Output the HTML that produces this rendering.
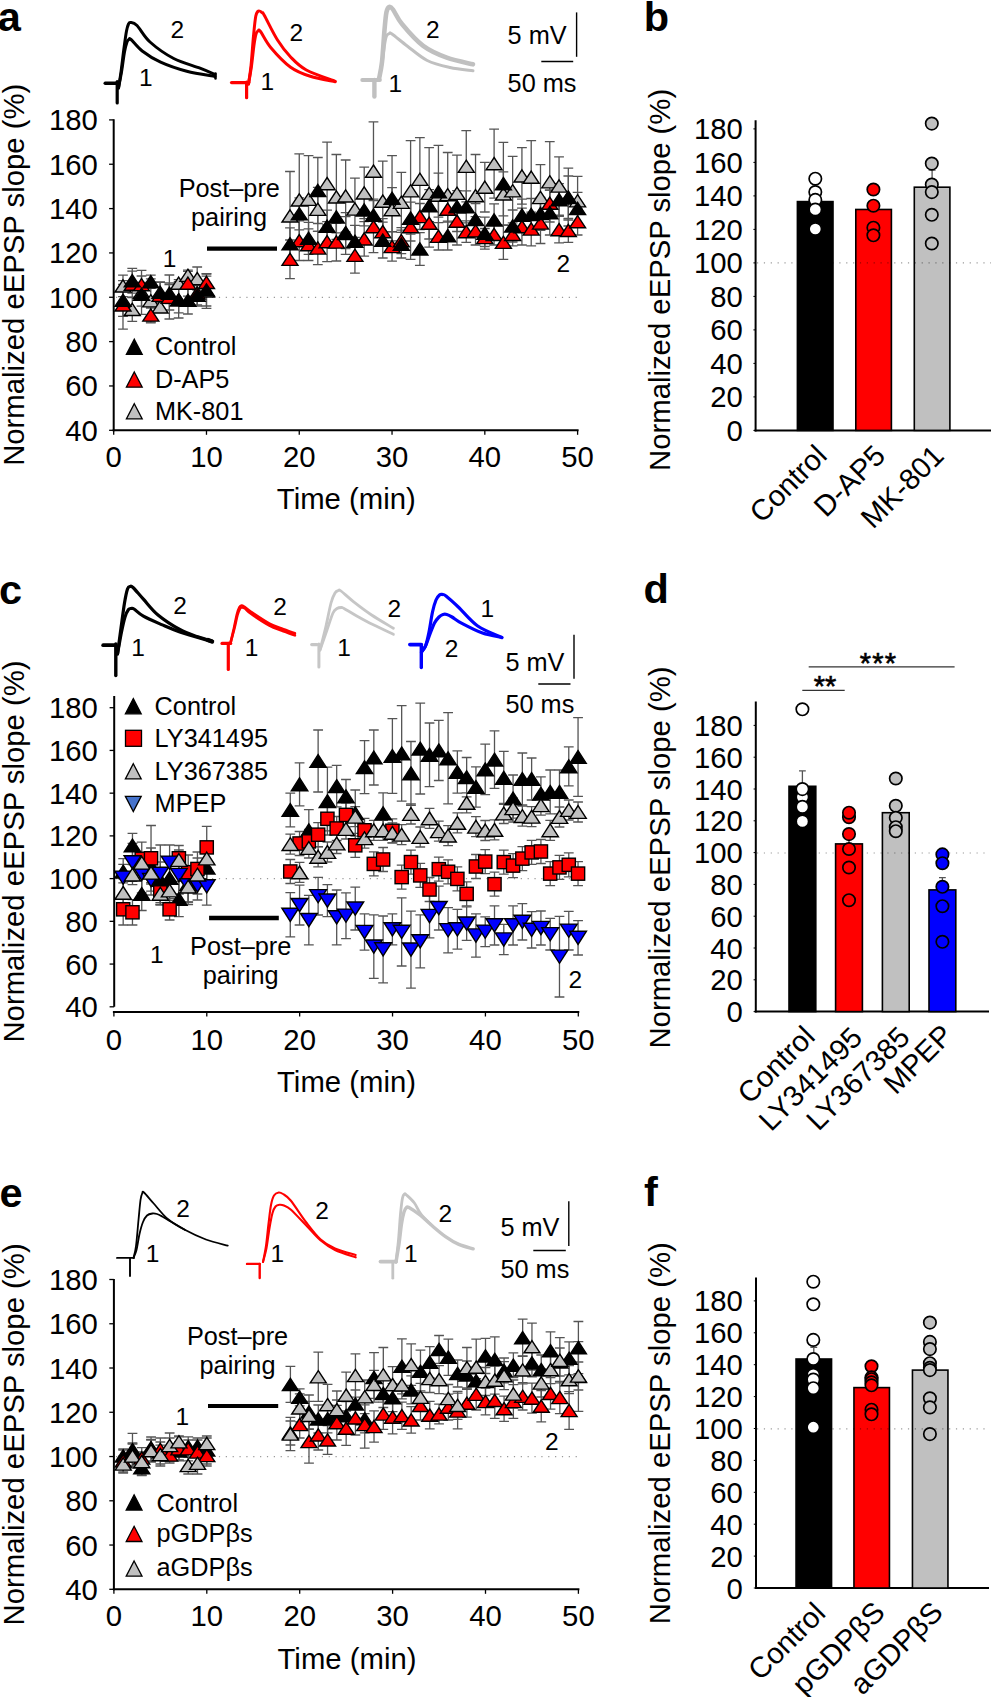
<!DOCTYPE html><html><head><meta charset="utf-8"><style>html,body{margin:0;padding:0;background:#fff;}svg{display:block;font-family:"Liberation Sans",sans-serif;}</style></head><body>
<svg width="991" height="1697" viewBox="0 0 991 1697">
<rect width="991" height="1697" fill="#fff"/>
<text x="-2.3" y="30.5" font-size="41.5" text-anchor="start" font-weight="bold">a</text>
<text x="643.7" y="30.5" font-size="41.5" text-anchor="start" font-weight="bold">b</text>
<text x="-0.9" y="603.6" font-size="41.5" text-anchor="start" font-weight="bold">c</text>
<text x="643.5" y="603.4" font-size="41.5" text-anchor="start" font-weight="bold">d</text>
<text x="-0.4" y="1206.5" font-size="41.5" text-anchor="start" font-weight="bold">e</text>
<text x="644" y="1206.2" font-size="41.5" text-anchor="start" font-weight="bold">f</text>
<text transform="translate(24 274.8) rotate(-90)" font-size="29.3" text-anchor="middle">Normalized eEPSP slope (%)</text>
<line x1="113.7" y1="119.2" x2="113.7" y2="431.3" stroke="#000" stroke-width="2"/>
<line x1="109.1" y1="430.3" x2="113.7" y2="430.3" stroke="#000" stroke-width="1.3"/>
<text x="97.8" y="440.8" font-size="29.3" text-anchor="end">40</text>
<line x1="109.1" y1="385.96" x2="113.7" y2="385.96" stroke="#000" stroke-width="1.3"/>
<text x="97.8" y="396.46" font-size="29.3" text-anchor="end">60</text>
<line x1="109.1" y1="341.61" x2="113.7" y2="341.61" stroke="#000" stroke-width="1.3"/>
<text x="97.8" y="352.11" font-size="29.3" text-anchor="end">80</text>
<line x1="109.1" y1="297.27" x2="113.7" y2="297.27" stroke="#000" stroke-width="1.3"/>
<text x="97.8" y="307.77" font-size="29.3" text-anchor="end">100</text>
<line x1="109.1" y1="252.93" x2="113.7" y2="252.93" stroke="#000" stroke-width="1.3"/>
<text x="97.8" y="263.43" font-size="29.3" text-anchor="end">120</text>
<line x1="109.1" y1="208.59" x2="113.7" y2="208.59" stroke="#000" stroke-width="1.3"/>
<text x="97.8" y="219.09" font-size="29.3" text-anchor="end">140</text>
<line x1="109.1" y1="164.24" x2="113.7" y2="164.24" stroke="#000" stroke-width="1.3"/>
<text x="97.8" y="174.74" font-size="29.3" text-anchor="end">160</text>
<line x1="109.1" y1="119.9" x2="113.7" y2="119.9" stroke="#000" stroke-width="1.3"/>
<text x="97.8" y="130.4" font-size="29.3" text-anchor="end">180</text>
<line x1="112.7" y1="430.3" x2="578.6" y2="430.3" stroke="#000" stroke-width="2"/>
<line x1="113.7" y1="430.3" x2="113.7" y2="434.8" stroke="#000" stroke-width="1.3"/>
<text x="113.7" y="467.2" font-size="29.3" text-anchor="middle">0</text>
<line x1="206.48" y1="430.3" x2="206.48" y2="434.8" stroke="#000" stroke-width="1.3"/>
<text x="206.48" y="467.2" font-size="29.3" text-anchor="middle">10</text>
<line x1="299.26" y1="430.3" x2="299.26" y2="434.8" stroke="#000" stroke-width="1.3"/>
<text x="299.26" y="467.2" font-size="29.3" text-anchor="middle">20</text>
<line x1="392.04" y1="430.3" x2="392.04" y2="434.8" stroke="#000" stroke-width="1.3"/>
<text x="392.04" y="467.2" font-size="29.3" text-anchor="middle">30</text>
<line x1="484.82" y1="430.3" x2="484.82" y2="434.8" stroke="#000" stroke-width="1.3"/>
<text x="484.82" y="467.2" font-size="29.3" text-anchor="middle">40</text>
<line x1="577.6" y1="430.3" x2="577.6" y2="434.8" stroke="#000" stroke-width="1.3"/>
<text x="577.6" y="467.2" font-size="29.3" text-anchor="middle">50</text>
<text x="346.3" y="508.8" font-size="29.3" text-anchor="middle">Time (min)</text>
<line x1="116" y1="297.32" x2="577.6" y2="297.32" stroke="#000" stroke-opacity="0.4" stroke-width="1.2" stroke-dasharray="1.2 5.66"/>
<path d="M105.2 83.3L116.6 83.3" fill="none" stroke="#000" stroke-width="3.4" stroke-linejoin="round" stroke-linecap="round"/>
<path d="M117.2 81.5L117.2 103" fill="none" stroke="#000" stroke-width="3.2" stroke-linejoin="round" stroke-linecap="round"/>
<path d="M118.5 88C118.92 85.33 120.08 78.67 121 72C121.92 65.33 123.08 54.83 124 48C124.92 41.17 125.75 35 126.5 31C127.25 27 127.83 25.42 128.5 24C129.17 22.58 129.08 22.25 130.5 22.5C131.92 22.75 133.75 22.25 137 25.5C140.25 28.75 143.88 36.5 150 42C156.12 47.5 165.37 54.13 173.7 58.5C182.03 62.87 193.12 65.53 200 68.2C206.88 70.87 212.5 73.45 215 74.5" fill="none" stroke="#000" stroke-width="3" stroke-linejoin="round" stroke-linecap="round"/>
<path d="M118.5 88C119 85.33 120.5 78 121.5 72C122.5 66 123.58 57 124.5 52C125.42 47 126.25 44.08 127 42C127.75 39.92 128.33 39.92 129 39.5C129.67 39.08 128.8 37.58 131 39.5C133.2 41.42 137.27 47.22 142.2 51C147.13 54.78 153.17 58.82 160.6 62.2C168.03 65.58 177.73 68.92 186.8 71.3C195.87 73.68 210.3 75.63 215 76.5" fill="none" stroke="#000" stroke-width="3" stroke-linejoin="round" stroke-linecap="round"/>
<path d="M215.5 73.5L215.5 78.5" fill="none" stroke="#000" stroke-width="2.5" stroke-linejoin="round" stroke-linecap="round"/>
<path d="M231.6 82.6L248.6 82.6" fill="none" stroke="#ff0000" stroke-width="3.4" stroke-linejoin="round" stroke-linecap="round"/>
<path d="M246.6 82L246.6 97.7" fill="none" stroke="#ff0000" stroke-width="3.2" stroke-linejoin="round" stroke-linecap="round"/>
<path d="M248.5 84C248.92 81 250.17 74 251 66C251.83 58 252.7 44.33 253.5 36C254.3 27.67 254.97 20.17 255.8 16C256.63 11.83 257.47 11.58 258.5 11C259.53 10.42 261.02 11.75 262 12.5C262.98 13.25 261.82 10.92 264.4 15.5C266.98 20.08 273.13 33.08 277.5 40C281.87 46.92 285.8 52 290.6 57C295.4 62 298.87 65.95 306.3 70C313.73 74.05 330.38 79.42 335.2 81.3" fill="none" stroke="#ff0000" stroke-width="3" stroke-linejoin="round" stroke-linecap="round"/>
<path d="M248.5 84C249 81 250.58 72.5 251.5 66C252.42 59.5 253.25 50.33 254 45C254.75 39.67 255.33 36.33 256 34C256.67 31.67 257.25 31.42 258 31C258.75 30.58 258.35 28.72 260.5 31.5C262.65 34.28 265.88 41.75 270.9 47.7C275.92 53.65 284.03 62.43 290.6 67.2C297.17 71.97 302.87 73.87 310.3 76.3C317.73 78.73 331.05 80.88 335.2 81.8" fill="none" stroke="#ff0000" stroke-width="3" stroke-linejoin="round" stroke-linecap="round"/>
<path d="M362.2 80L379.9 80" fill="none" stroke="#c0c0c0" stroke-width="3.8" stroke-linejoin="round" stroke-linecap="round"/>
<path d="M374.4 80L374.4 96.5" fill="none" stroke="#c0c0c0" stroke-width="4.4" stroke-linejoin="round" stroke-linecap="round"/>
<path d="M379 79C379.5 76.17 381.08 70.17 382 62C382.92 53.83 383.75 38.33 384.5 30C385.25 21.67 385.68 15.83 386.5 12C387.32 8.17 388.32 7.42 389.4 7C390.48 6.58 390.87 6.62 393 9.5C395.13 12.38 397.17 18.23 402.2 24.3C407.23 30.37 415.77 40.33 423.2 45.9C430.63 51.47 438.5 54.63 446.8 57.7C455.1 60.77 468.63 63.2 473 64.3" fill="none" stroke="#c0c0c0" stroke-width="4.6" stroke-linejoin="round" stroke-linecap="round"/>
<path d="M379 79C379.5 76.5 381.08 69.67 382 64C382.92 58.33 383.75 49.67 384.5 45C385.25 40.33 385.68 37.92 386.5 36C387.32 34.08 388.48 33.83 389.4 33.5C390.32 33.17 388.98 31.88 392 34C395.02 36.12 401.63 41.78 407.5 46.2C413.37 50.62 420.12 56.95 427.2 60.5C434.28 64.05 442.37 65.78 450 67.5C457.63 69.22 469.17 70.25 473 70.8" fill="none" stroke="#c0c0c0" stroke-width="3" stroke-linejoin="round" stroke-linecap="round"/>
<text x="177.2" y="38.4" font-size="24.5" text-anchor="middle">2</text>
<text x="145.8" y="85.7" font-size="24.5" text-anchor="middle">1</text>
<text x="296.2" y="40.5" font-size="24.5" text-anchor="middle">2</text>
<text x="267.4" y="90.3" font-size="24.5" text-anchor="middle">1</text>
<text x="432.8" y="37.8" font-size="24.5" text-anchor="middle">2</text>
<text x="395.4" y="91.6" font-size="24.5" text-anchor="middle">1</text>
<line x1="576.6" y1="12.4" x2="576.6" y2="56.8" stroke="#000" stroke-width="1.4"/>
<line x1="541.3" y1="61.6" x2="573.2" y2="61.6" stroke="#000" stroke-width="1.5"/>
<text x="507.6" y="44.3" font-size="25.3" text-anchor="start">5 mV</text>
<text x="507.6" y="92" font-size="25.3" text-anchor="start">50 ms</text>
<text x="229.3" y="197" font-size="25.3" text-anchor="middle">Post–pre</text>
<text x="229" y="226.4" font-size="25.3" text-anchor="middle">pairing</text>
<line x1="207" y1="248.7" x2="277" y2="248.7" stroke="#000" stroke-width="4.3"/>
<text x="169.5" y="267.2" font-size="24.5" text-anchor="middle">1</text>
<text x="563.4" y="272" font-size="24.5" text-anchor="middle">2</text>
<path d="M134.3 339.2L142.2 354.4L126.4 354.4Z" fill="#000" stroke="#000" stroke-width="1.3"/>
<text x="154.9" y="355.1" font-size="25.3" text-anchor="start">Control</text>
<path d="M134.3 372L142.2 387.2L126.4 387.2Z" fill="#ff0000" stroke="#000" stroke-width="1.3"/>
<text x="154.9" y="387.9" font-size="25.3" text-anchor="start">D-AP5</text>
<path d="M134.3 403.7L142.2 418.9L126.4 418.9Z" fill="#c0c0c0" stroke="#000" stroke-width="1.3"/>
<text x="154.9" y="419.6" font-size="25.3" text-anchor="start">MK-801</text>
<path d="M122.98 275.1V296.7M118.08 275.1H127.88M118.08 296.7H127.88" stroke="#555555" stroke-width="1.3" fill="none"/>
<path d="M122.98 284.3V316.3M118.08 284.3H127.88M118.08 316.3H127.88" stroke="#555555" stroke-width="1.3" fill="none"/>
<path d="M122.98 280.7V329.1M118.08 280.7H127.88M118.08 329.1H127.88" stroke="#555555" stroke-width="1.3" fill="none"/>
<path d="M132.26 297.5V321.3M127.36 297.5H137.16M127.36 321.3H137.16" stroke="#555555" stroke-width="1.3" fill="none"/>
<path d="M132.26 268.3V293.1M127.36 268.3H137.16M127.36 293.1H137.16" stroke="#555555" stroke-width="1.3" fill="none"/>
<path d="M132.26 271.2V297.2M127.36 271.2H137.16M127.36 297.2H137.16" stroke="#555555" stroke-width="1.3" fill="none"/>
<path d="M141.53 270.3V314.3M136.63 270.3H146.43M136.63 314.3H146.43" stroke="#555555" stroke-width="1.3" fill="none"/>
<path d="M141.53 282.4V306.2M136.63 282.4H146.43M136.63 306.2H146.43" stroke="#555555" stroke-width="1.3" fill="none"/>
<path d="M141.53 276V293.4M136.63 276H146.43M136.63 293.4H146.43" stroke="#555555" stroke-width="1.3" fill="none"/>
<path d="M150.81 278.8V322.8M145.91 278.8H155.71M145.91 322.8H155.71" stroke="#555555" stroke-width="1.3" fill="none"/>
<path d="M150.81 275.1V288.3M145.91 275.1H155.71M145.91 288.3H155.71" stroke="#555555" stroke-width="1.3" fill="none"/>
<path d="M150.81 308V322M145.91 308H155.71M145.91 322H155.71" stroke="#555555" stroke-width="1.3" fill="none"/>
<path d="M160.09 301.8V312M155.19 301.8H164.99M155.19 312H164.99" stroke="#555555" stroke-width="1.3" fill="none"/>
<path d="M160.09 282V302.6M155.19 282H164.99M155.19 302.6H164.99" stroke="#555555" stroke-width="1.3" fill="none"/>
<path d="M160.09 282.3V308.3M155.19 282.3H164.99M155.19 308.3H164.99" stroke="#555555" stroke-width="1.3" fill="none"/>
<path d="M169.37 275V319M164.47 275H174.27M164.47 319H174.27" stroke="#555555" stroke-width="1.3" fill="none"/>
<path d="M169.37 283V303.6M164.47 283H174.27M164.47 303.6H174.27" stroke="#555555" stroke-width="1.3" fill="none"/>
<path d="M169.37 284.6V310M164.47 284.6H174.27M164.47 310H174.27" stroke="#555555" stroke-width="1.3" fill="none"/>
<path d="M178.65 279.7V286.7M173.75 279.7H183.55M173.75 286.7H183.55" stroke="#555555" stroke-width="1.3" fill="none"/>
<path d="M178.65 281.6V318M173.75 281.6H183.55M173.75 318H183.55" stroke="#555555" stroke-width="1.3" fill="none"/>
<path d="M178.65 286.8V312.8M173.75 286.8H183.55M173.75 312.8H183.55" stroke="#555555" stroke-width="1.3" fill="none"/>
<path d="M187.92 271.3V279.3M183.02 271.3H192.82M183.02 279.3H192.82" stroke="#555555" stroke-width="1.3" fill="none"/>
<path d="M187.92 286.6V314M183.02 286.6H192.82M183.02 314H192.82" stroke="#555555" stroke-width="1.3" fill="none"/>
<path d="M187.92 270.2V296.2M183.02 270.2H192.82M183.02 296.2H192.82" stroke="#555555" stroke-width="1.3" fill="none"/>
<path d="M197.2 267V290.2M192.3 267H202.1M192.3 290.2H202.1" stroke="#555555" stroke-width="1.3" fill="none"/>
<path d="M197.2 285.7V304.9M192.3 285.7H202.1M192.3 304.9H202.1" stroke="#555555" stroke-width="1.3" fill="none"/>
<path d="M197.2 280V306M192.3 280H202.1M192.3 306H202.1" stroke="#555555" stroke-width="1.3" fill="none"/>
<path d="M206.48 273.6V308.4M201.58 273.6H211.38M201.58 308.4H211.38" stroke="#555555" stroke-width="1.3" fill="none"/>
<path d="M206.48 274V306M201.58 274H211.38M201.58 306H211.38" stroke="#555555" stroke-width="1.3" fill="none"/>
<path d="M206.48 276.1V288.7M201.58 276.1H211.38M201.58 288.7H211.38" stroke="#555555" stroke-width="1.3" fill="none"/>
<path d="M289.98 171.5V260.3M285.08 171.5H294.88M285.08 260.3H294.88" stroke="#555555" stroke-width="1.3" fill="none"/>
<path d="M289.98 227.8V259.8M285.08 227.8H294.88M285.08 259.8H294.88" stroke="#555555" stroke-width="1.3" fill="none"/>
<path d="M289.98 240V278.6M285.08 240H294.88M285.08 278.6H294.88" stroke="#555555" stroke-width="1.3" fill="none"/>
<path d="M299.26 153.9V245.9M294.36 153.9H304.16M294.36 245.9H304.16" stroke="#555555" stroke-width="1.3" fill="none"/>
<path d="M299.26 197.8V229.8M294.36 197.8H304.16M294.36 229.8H304.16" stroke="#555555" stroke-width="1.3" fill="none"/>
<path d="M299.26 220.9V260.5M294.36 220.9H304.16M294.36 260.5H304.16" stroke="#555555" stroke-width="1.3" fill="none"/>
<path d="M308.54 155.7V242.9M303.64 155.7H313.44M303.64 242.9H313.44" stroke="#555555" stroke-width="1.3" fill="none"/>
<path d="M308.54 222.3V254.3M303.64 222.3H313.44M303.64 254.3H313.44" stroke="#555555" stroke-width="1.3" fill="none"/>
<path d="M308.54 228.9V260.5M303.64 228.9H313.44M303.64 260.5H313.44" stroke="#555555" stroke-width="1.3" fill="none"/>
<path d="M317.82 187.3V231.3M312.92 187.3H322.72M312.92 231.3H322.72" stroke="#555555" stroke-width="1.3" fill="none"/>
<path d="M317.82 157.5V223.5M312.92 157.5H322.72M312.92 223.5H322.72" stroke="#555555" stroke-width="1.3" fill="none"/>
<path d="M317.82 231.3V264.7M312.92 231.3H322.72M312.92 264.7H322.72" stroke="#555555" stroke-width="1.3" fill="none"/>
<path d="M327.09 142.2V225M322.19 142.2H331.99M322.19 225H331.99" stroke="#555555" stroke-width="1.3" fill="none"/>
<path d="M327.09 210.2V242.2M322.19 210.2H331.99M322.19 242.2H331.99" stroke="#555555" stroke-width="1.3" fill="none"/>
<path d="M327.09 221.7V261.7M322.19 221.7H331.99M322.19 261.7H331.99" stroke="#555555" stroke-width="1.3" fill="none"/>
<path d="M336.37 154.5V239.3M331.47 154.5H341.27M331.47 239.3H341.27" stroke="#555555" stroke-width="1.3" fill="none"/>
<path d="M336.37 200.9V232.9M331.47 200.9H341.27M331.47 232.9H341.27" stroke="#555555" stroke-width="1.3" fill="none"/>
<path d="M336.37 223V261M331.47 223H341.27M331.47 261H341.27" stroke="#555555" stroke-width="1.3" fill="none"/>
<path d="M345.65 160V231.8M340.75 160H350.55M340.75 231.8H350.55" stroke="#555555" stroke-width="1.3" fill="none"/>
<path d="M345.65 216.6V248.6M340.75 216.6H350.55M340.75 248.6H350.55" stroke="#555555" stroke-width="1.3" fill="none"/>
<path d="M345.65 212.6V254.4M340.75 212.6H350.55M340.75 254.4H350.55" stroke="#555555" stroke-width="1.3" fill="none"/>
<path d="M354.93 178.1V239.9M350.03 178.1H359.83M350.03 239.9H359.83" stroke="#555555" stroke-width="1.3" fill="none"/>
<path d="M354.93 225.3V257.3M350.03 225.3H359.83M350.03 257.3H359.83" stroke="#555555" stroke-width="1.3" fill="none"/>
<path d="M354.93 237.4V273.2M350.03 237.4H359.83M350.03 273.2H359.83" stroke="#555555" stroke-width="1.3" fill="none"/>
<path d="M364.21 167.2V218.6M359.31 167.2H369.11M359.31 218.6H369.11" stroke="#555555" stroke-width="1.3" fill="none"/>
<path d="M364.21 193.9V225.9M359.31 193.9H369.11M359.31 225.9H369.11" stroke="#555555" stroke-width="1.3" fill="none"/>
<path d="M364.21 221.6V256.2M359.31 221.6H369.11M359.31 256.2H369.11" stroke="#555555" stroke-width="1.3" fill="none"/>
<path d="M373.48 121.8V220.4M368.58 121.8H378.38M368.58 220.4H378.38" stroke="#555555" stroke-width="1.3" fill="none"/>
<path d="M373.48 199.1V231.1M368.58 199.1H378.38M368.58 231.1H378.38" stroke="#555555" stroke-width="1.3" fill="none"/>
<path d="M373.48 200.6V252.6M368.58 200.6H378.38M368.58 252.6H378.38" stroke="#555555" stroke-width="1.3" fill="none"/>
<path d="M382.76 161.2V241M377.86 161.2H387.66M377.86 241H387.66" stroke="#555555" stroke-width="1.3" fill="none"/>
<path d="M382.76 222.2V258M377.86 222.2H387.66M377.86 258H387.66" stroke="#555555" stroke-width="1.3" fill="none"/>
<path d="M382.76 218.6V244.6M377.86 218.6H387.66M377.86 244.6H387.66" stroke="#555555" stroke-width="1.3" fill="none"/>
<path d="M392.04 187.6V231.6M387.14 187.6H396.94M387.14 231.6H396.94" stroke="#555555" stroke-width="1.3" fill="none"/>
<path d="M392.04 155.7V240.9M387.14 155.7H396.94M387.14 240.9H396.94" stroke="#555555" stroke-width="1.3" fill="none"/>
<path d="M392.04 231.9V261.1M387.14 231.9H396.94M387.14 261.1H396.94" stroke="#555555" stroke-width="1.3" fill="none"/>
<path d="M401.32 172.3V232.3M396.42 172.3H406.22M396.42 232.3H406.22" stroke="#555555" stroke-width="1.3" fill="none"/>
<path d="M401.32 230.2V258M396.42 230.2H406.22M396.42 258H406.22" stroke="#555555" stroke-width="1.3" fill="none"/>
<path d="M401.32 227.7V253.7M396.42 227.7H406.22M396.42 253.7H406.22" stroke="#555555" stroke-width="1.3" fill="none"/>
<path d="M410.6 140.6V241M405.7 140.6H415.5M405.7 241H415.5" stroke="#555555" stroke-width="1.3" fill="none"/>
<path d="M410.6 202.1V234.1M405.7 202.1H415.5M405.7 234.1H415.5" stroke="#555555" stroke-width="1.3" fill="none"/>
<path d="M410.6 193.9V259.3M405.7 193.9H415.5M405.7 259.3H415.5" stroke="#555555" stroke-width="1.3" fill="none"/>
<path d="M419.87 137.6V221M414.97 137.6H424.77M414.97 221H424.77" stroke="#555555" stroke-width="1.3" fill="none"/>
<path d="M419.87 232.7V265.3M414.97 232.7H424.77M414.97 265.3H424.77" stroke="#555555" stroke-width="1.3" fill="none"/>
<path d="M419.87 203.5V229.5M414.97 203.5H424.77M414.97 229.5H424.77" stroke="#555555" stroke-width="1.3" fill="none"/>
<path d="M429.15 147.6V239M424.25 147.6H434.05M424.25 239H434.05" stroke="#555555" stroke-width="1.3" fill="none"/>
<path d="M429.15 189.6V221.6M424.25 189.6H434.05M424.25 221.6H434.05" stroke="#555555" stroke-width="1.3" fill="none"/>
<path d="M429.15 199.3V247.1M424.25 199.3H434.05M424.25 247.1H434.05" stroke="#555555" stroke-width="1.3" fill="none"/>
<path d="M438.43 173.1V217.1M433.53 173.1H443.33M433.53 217.1H443.33" stroke="#555555" stroke-width="1.3" fill="none"/>
<path d="M438.43 145.4V238M433.53 145.4H443.33M433.53 238H443.33" stroke="#555555" stroke-width="1.3" fill="none"/>
<path d="M438.43 222.6V250M433.53 222.6H443.33M433.53 250H443.33" stroke="#555555" stroke-width="1.3" fill="none"/>
<path d="M447.71 152.5V236.9M442.81 152.5H452.61M442.81 236.9H452.61" stroke="#555555" stroke-width="1.3" fill="none"/>
<path d="M447.71 221.2V250M442.81 221.2H452.61M442.81 250H452.61" stroke="#555555" stroke-width="1.3" fill="none"/>
<path d="M447.71 196.2V222.2M442.81 196.2H452.61M442.81 222.2H452.61" stroke="#555555" stroke-width="1.3" fill="none"/>
<path d="M456.99 155.1V231.5M452.09 155.1H461.89M452.09 231.5H461.89" stroke="#555555" stroke-width="1.3" fill="none"/>
<path d="M456.99 190.6V222.6M452.09 190.6H461.89M452.09 222.6H461.89" stroke="#555555" stroke-width="1.3" fill="none"/>
<path d="M456.99 197.2V245M452.09 197.2H461.89M452.09 245H461.89" stroke="#555555" stroke-width="1.3" fill="none"/>
<path d="M466.26 130.7V201.9M461.36 130.7H471.16M461.36 201.9H471.16" stroke="#555555" stroke-width="1.3" fill="none"/>
<path d="M466.26 190.8V222.8M461.36 190.8H471.16M461.36 222.8H471.16" stroke="#555555" stroke-width="1.3" fill="none"/>
<path d="M466.26 220.9V242.3M461.36 220.9H471.16M461.36 242.3H471.16" stroke="#555555" stroke-width="1.3" fill="none"/>
<path d="M475.54 154.5V236.9M470.64 154.5H480.44M470.64 236.9H480.44" stroke="#555555" stroke-width="1.3" fill="none"/>
<path d="M475.54 203.5V235.5M470.64 203.5H480.44M470.64 235.5H480.44" stroke="#555555" stroke-width="1.3" fill="none"/>
<path d="M475.54 216.6V245M470.64 216.6H480.44M470.64 245H480.44" stroke="#555555" stroke-width="1.3" fill="none"/>
<path d="M484.82 162.4V212M479.92 162.4H489.72M479.92 212H489.72" stroke="#555555" stroke-width="1.3" fill="none"/>
<path d="M484.82 217.2V249.2M479.92 217.2H489.72M479.92 249.2H489.72" stroke="#555555" stroke-width="1.3" fill="none"/>
<path d="M484.82 228.5V246.5M479.92 228.5H489.72M479.92 246.5H489.72" stroke="#555555" stroke-width="1.3" fill="none"/>
<path d="M494.1 129.1V198.1M489.2 129.1H499M489.2 198.1H499" stroke="#555555" stroke-width="1.3" fill="none"/>
<path d="M494.1 203.9V235.9M489.2 203.9H499M489.2 235.9H499" stroke="#555555" stroke-width="1.3" fill="none"/>
<path d="M494.1 223.8V245M489.2 223.8H499M489.2 245H499" stroke="#555555" stroke-width="1.3" fill="none"/>
<path d="M503.38 171.9V215.9M498.48 171.9H508.28M498.48 215.9H508.28" stroke="#555555" stroke-width="1.3" fill="none"/>
<path d="M503.38 142.4V224.8M498.48 142.4H508.28M498.48 224.8H508.28" stroke="#555555" stroke-width="1.3" fill="none"/>
<path d="M503.38 225.3V259.3M498.48 225.3H508.28M498.48 259.3H508.28" stroke="#555555" stroke-width="1.3" fill="none"/>
<path d="M512.65 156.3V225.3M507.75 156.3H517.55M507.75 225.3H517.55" stroke="#555555" stroke-width="1.3" fill="none"/>
<path d="M512.65 210V242M507.75 210H517.55M507.75 242H517.55" stroke="#555555" stroke-width="1.3" fill="none"/>
<path d="M512.65 222.9V245.9M507.75 222.9H517.55M507.75 245.9H517.55" stroke="#555555" stroke-width="1.3" fill="none"/>
<path d="M521.93 147.6V204.2M517.03 147.6H526.83M517.03 204.2H526.83" stroke="#555555" stroke-width="1.3" fill="none"/>
<path d="M521.93 199.1V231.1M517.03 199.1H526.83M517.03 231.1H526.83" stroke="#555555" stroke-width="1.3" fill="none"/>
<path d="M521.93 208.2V245M517.03 208.2H526.83M517.03 245H526.83" stroke="#555555" stroke-width="1.3" fill="none"/>
<path d="M531.21 140.6V213.8M526.31 140.6H536.11M526.31 213.8H536.11" stroke="#555555" stroke-width="1.3" fill="none"/>
<path d="M531.21 198.5V230.5M526.31 198.5H536.11M526.31 230.5H536.11" stroke="#555555" stroke-width="1.3" fill="none"/>
<path d="M531.21 212.1V245.9M526.31 212.1H536.11M526.31 245.9H536.11" stroke="#555555" stroke-width="1.3" fill="none"/>
<path d="M540.49 164.6V230.4M535.59 164.6H545.39M535.59 230.4H545.39" stroke="#555555" stroke-width="1.3" fill="none"/>
<path d="M540.49 197.5V229.5M535.59 197.5H545.39M535.59 229.5H545.39" stroke="#555555" stroke-width="1.3" fill="none"/>
<path d="M540.49 202.5V243.5M535.59 202.5H545.39M535.59 243.5H545.39" stroke="#555555" stroke-width="1.3" fill="none"/>
<path d="M549.77 141.6V222M544.87 141.6H554.67M544.87 222H554.67" stroke="#555555" stroke-width="1.3" fill="none"/>
<path d="M549.77 190.2V235M544.87 190.2H554.67M544.87 235H554.67" stroke="#555555" stroke-width="1.3" fill="none"/>
<path d="M549.77 190.2V216.2M544.87 190.2H554.67M544.87 216.2H554.67" stroke="#555555" stroke-width="1.3" fill="none"/>
<path d="M559.04 156.9V215.1M554.14 156.9H563.94M554.14 215.1H563.94" stroke="#555555" stroke-width="1.3" fill="none"/>
<path d="M559.04 183.6V215.6M554.14 183.6H563.94M554.14 215.6H563.94" stroke="#555555" stroke-width="1.3" fill="none"/>
<path d="M559.04 216.3V242.9M554.14 216.3H563.94M554.14 242.9H563.94" stroke="#555555" stroke-width="1.3" fill="none"/>
<path d="M568.32 176V220M563.42 176H573.22M563.42 220H573.22" stroke="#555555" stroke-width="1.3" fill="none"/>
<path d="M568.32 168.2V226M563.42 168.2H573.22M563.42 226H573.22" stroke="#555555" stroke-width="1.3" fill="none"/>
<path d="M568.32 218.5V242.3M563.42 218.5H573.22M563.42 242.3H573.22" stroke="#555555" stroke-width="1.3" fill="none"/>
<path d="M577.6 176.3V225.3M572.7 176.3H582.5M572.7 225.3H582.5" stroke="#555555" stroke-width="1.3" fill="none"/>
<path d="M577.6 192.4V224.4M572.7 192.4H582.5M572.7 224.4H582.5" stroke="#555555" stroke-width="1.3" fill="none"/>
<path d="M577.6 208.4V235M572.7 208.4H582.5M572.7 235H582.5" stroke="#555555" stroke-width="1.3" fill="none"/>
<path d="M122.98 279.8L130.98 292L114.98 292Z" fill="#c0c0c0" stroke="#000" stroke-width="1.4"/>
<path d="M132.26 303.3L140.26 315.5L124.26 315.5Z" fill="#c0c0c0" stroke="#000" stroke-width="1.4"/>
<path d="M141.53 286.2L149.53 298.4L133.53 298.4Z" fill="#c0c0c0" stroke="#000" stroke-width="1.4"/>
<path d="M150.81 294.7L158.81 306.9L142.81 306.9Z" fill="#c0c0c0" stroke="#000" stroke-width="1.4"/>
<path d="M160.09 300.8L168.09 313L152.09 313Z" fill="#c0c0c0" stroke="#000" stroke-width="1.4"/>
<path d="M169.37 290.9L177.37 303.1L161.37 303.1Z" fill="#c0c0c0" stroke="#000" stroke-width="1.4"/>
<path d="M178.65 277.1L186.65 289.3L170.65 289.3Z" fill="#c0c0c0" stroke="#000" stroke-width="1.4"/>
<path d="M187.92 269.2L195.92 281.4L179.92 281.4Z" fill="#c0c0c0" stroke="#000" stroke-width="1.4"/>
<path d="M197.2 272.5L205.2 284.7L189.2 284.7Z" fill="#c0c0c0" stroke="#000" stroke-width="1.4"/>
<path d="M206.48 284.9L214.48 297.1L198.48 297.1Z" fill="#c0c0c0" stroke="#000" stroke-width="1.4"/>
<path d="M289.98 209.8L297.98 222L281.98 222Z" fill="#c0c0c0" stroke="#000" stroke-width="1.4"/>
<path d="M299.26 193.8L307.26 206L291.26 206Z" fill="#c0c0c0" stroke="#000" stroke-width="1.4"/>
<path d="M308.54 193.2L316.54 205.4L300.54 205.4Z" fill="#c0c0c0" stroke="#000" stroke-width="1.4"/>
<path d="M317.82 203.2L325.82 215.4L309.82 215.4Z" fill="#c0c0c0" stroke="#000" stroke-width="1.4"/>
<path d="M327.09 177.5L335.09 189.7L319.09 189.7Z" fill="#c0c0c0" stroke="#000" stroke-width="1.4"/>
<path d="M336.37 190.8L344.37 203L328.37 203Z" fill="#c0c0c0" stroke="#000" stroke-width="1.4"/>
<path d="M345.65 189.8L353.65 202L337.65 202Z" fill="#c0c0c0" stroke="#000" stroke-width="1.4"/>
<path d="M354.93 202.9L362.93 215.1L346.93 215.1Z" fill="#c0c0c0" stroke="#000" stroke-width="1.4"/>
<path d="M364.21 186.8L372.21 199L356.21 199Z" fill="#c0c0c0" stroke="#000" stroke-width="1.4"/>
<path d="M373.48 165L381.48 177.2L365.48 177.2Z" fill="#c0c0c0" stroke="#000" stroke-width="1.4"/>
<path d="M382.76 195L390.76 207.2L374.76 207.2Z" fill="#c0c0c0" stroke="#000" stroke-width="1.4"/>
<path d="M392.04 203.5L400.04 215.7L384.04 215.7Z" fill="#c0c0c0" stroke="#000" stroke-width="1.4"/>
<path d="M401.32 196.2L409.32 208.4L393.32 208.4Z" fill="#c0c0c0" stroke="#000" stroke-width="1.4"/>
<path d="M410.6 184.7L418.6 196.9L402.6 196.9Z" fill="#c0c0c0" stroke="#000" stroke-width="1.4"/>
<path d="M419.87 173.2L427.87 185.4L411.87 185.4Z" fill="#c0c0c0" stroke="#000" stroke-width="1.4"/>
<path d="M429.15 187.2L437.15 199.4L421.15 199.4Z" fill="#c0c0c0" stroke="#000" stroke-width="1.4"/>
<path d="M438.43 189L446.43 201.2L430.43 201.2Z" fill="#c0c0c0" stroke="#000" stroke-width="1.4"/>
<path d="M447.71 188.6L455.71 200.8L439.71 200.8Z" fill="#c0c0c0" stroke="#000" stroke-width="1.4"/>
<path d="M456.99 187.2L464.99 199.4L448.99 199.4Z" fill="#c0c0c0" stroke="#000" stroke-width="1.4"/>
<path d="M466.26 160.2L474.26 172.4L458.26 172.4Z" fill="#c0c0c0" stroke="#000" stroke-width="1.4"/>
<path d="M475.54 189.6L483.54 201.8L467.54 201.8Z" fill="#c0c0c0" stroke="#000" stroke-width="1.4"/>
<path d="M484.82 181.1L492.82 193.3L476.82 193.3Z" fill="#c0c0c0" stroke="#000" stroke-width="1.4"/>
<path d="M494.1 157.5L502.1 169.7L486.1 169.7Z" fill="#c0c0c0" stroke="#000" stroke-width="1.4"/>
<path d="M503.38 187.8L511.38 200L495.38 200Z" fill="#c0c0c0" stroke="#000" stroke-width="1.4"/>
<path d="M512.65 184.7L520.65 196.9L504.65 196.9Z" fill="#c0c0c0" stroke="#000" stroke-width="1.4"/>
<path d="M521.93 169.8L529.93 182L513.93 182Z" fill="#c0c0c0" stroke="#000" stroke-width="1.4"/>
<path d="M531.21 171.1L539.21 183.3L523.21 183.3Z" fill="#c0c0c0" stroke="#000" stroke-width="1.4"/>
<path d="M540.49 191.4L548.49 203.6L532.49 203.6Z" fill="#c0c0c0" stroke="#000" stroke-width="1.4"/>
<path d="M549.77 175.7L557.77 187.9L541.77 187.9Z" fill="#c0c0c0" stroke="#000" stroke-width="1.4"/>
<path d="M559.04 179.9L567.04 192.1L551.04 192.1Z" fill="#c0c0c0" stroke="#000" stroke-width="1.4"/>
<path d="M568.32 191.9L576.32 204.1L560.32 204.1Z" fill="#c0c0c0" stroke="#000" stroke-width="1.4"/>
<path d="M577.6 194.7L585.6 206.9L569.6 206.9Z" fill="#c0c0c0" stroke="#000" stroke-width="1.4"/>
<path d="M122.98 298.8L130.98 311L114.98 311Z" fill="#ff0000" stroke="#000" stroke-width="1.4"/>
<path d="M132.26 278.1L140.26 290.3L124.26 290.3Z" fill="#ff0000" stroke="#000" stroke-width="1.4"/>
<path d="M141.53 278.6L149.53 290.8L133.53 290.8Z" fill="#ff0000" stroke="#000" stroke-width="1.4"/>
<path d="M150.81 308.9L158.81 321.1L142.81 321.1Z" fill="#ff0000" stroke="#000" stroke-width="1.4"/>
<path d="M160.09 289.2L168.09 301.4L152.09 301.4Z" fill="#ff0000" stroke="#000" stroke-width="1.4"/>
<path d="M169.37 291.2L177.37 303.4L161.37 303.4Z" fill="#ff0000" stroke="#000" stroke-width="1.4"/>
<path d="M178.65 293.7L186.65 305.9L170.65 305.9Z" fill="#ff0000" stroke="#000" stroke-width="1.4"/>
<path d="M187.92 277.1L195.92 289.3L179.92 289.3Z" fill="#ff0000" stroke="#000" stroke-width="1.4"/>
<path d="M197.2 286.9L205.2 299.1L189.2 299.1Z" fill="#ff0000" stroke="#000" stroke-width="1.4"/>
<path d="M206.48 276.3L214.48 288.5L198.48 288.5Z" fill="#ff0000" stroke="#000" stroke-width="1.4"/>
<path d="M289.98 253.2L297.98 265.4L281.98 265.4Z" fill="#ff0000" stroke="#000" stroke-width="1.4"/>
<path d="M299.26 234.6L307.26 246.8L291.26 246.8Z" fill="#ff0000" stroke="#000" stroke-width="1.4"/>
<path d="M308.54 238.6L316.54 250.8L300.54 250.8Z" fill="#ff0000" stroke="#000" stroke-width="1.4"/>
<path d="M317.82 241.9L325.82 254.1L309.82 254.1Z" fill="#ff0000" stroke="#000" stroke-width="1.4"/>
<path d="M327.09 235.6L335.09 247.8L319.09 247.8Z" fill="#ff0000" stroke="#000" stroke-width="1.4"/>
<path d="M336.37 235.9L344.37 248.1L328.37 248.1Z" fill="#ff0000" stroke="#000" stroke-width="1.4"/>
<path d="M345.65 227.4L353.65 239.6L337.65 239.6Z" fill="#ff0000" stroke="#000" stroke-width="1.4"/>
<path d="M354.93 249.2L362.93 261.4L346.93 261.4Z" fill="#ff0000" stroke="#000" stroke-width="1.4"/>
<path d="M364.21 232.8L372.21 245L356.21 245Z" fill="#ff0000" stroke="#000" stroke-width="1.4"/>
<path d="M373.48 220.5L381.48 232.7L365.48 232.7Z" fill="#ff0000" stroke="#000" stroke-width="1.4"/>
<path d="M382.76 225.5L390.76 237.7L374.76 237.7Z" fill="#ff0000" stroke="#000" stroke-width="1.4"/>
<path d="M392.04 240.4L400.04 252.6L384.04 252.6Z" fill="#ff0000" stroke="#000" stroke-width="1.4"/>
<path d="M401.32 234.6L409.32 246.8L393.32 246.8Z" fill="#ff0000" stroke="#000" stroke-width="1.4"/>
<path d="M410.6 220.5L418.6 232.7L402.6 232.7Z" fill="#ff0000" stroke="#000" stroke-width="1.4"/>
<path d="M419.87 210.4L427.87 222.6L411.87 222.6Z" fill="#ff0000" stroke="#000" stroke-width="1.4"/>
<path d="M429.15 217.1L437.15 229.3L421.15 229.3Z" fill="#ff0000" stroke="#000" stroke-width="1.4"/>
<path d="M438.43 230.2L446.43 242.4L430.43 242.4Z" fill="#ff0000" stroke="#000" stroke-width="1.4"/>
<path d="M447.71 203.1L455.71 215.3L439.71 215.3Z" fill="#ff0000" stroke="#000" stroke-width="1.4"/>
<path d="M456.99 215L464.99 227.2L448.99 227.2Z" fill="#ff0000" stroke="#000" stroke-width="1.4"/>
<path d="M466.26 225.5L474.26 237.7L458.26 237.7Z" fill="#ff0000" stroke="#000" stroke-width="1.4"/>
<path d="M475.54 224.7L483.54 236.9L467.54 236.9Z" fill="#ff0000" stroke="#000" stroke-width="1.4"/>
<path d="M484.82 231.4L492.82 243.6L476.82 243.6Z" fill="#ff0000" stroke="#000" stroke-width="1.4"/>
<path d="M494.1 228.3L502.1 240.5L486.1 240.5Z" fill="#ff0000" stroke="#000" stroke-width="1.4"/>
<path d="M503.38 236.2L511.38 248.4L495.38 248.4Z" fill="#ff0000" stroke="#000" stroke-width="1.4"/>
<path d="M512.65 228.3L520.65 240.5L504.65 240.5Z" fill="#ff0000" stroke="#000" stroke-width="1.4"/>
<path d="M521.93 220.5L529.93 232.7L513.93 232.7Z" fill="#ff0000" stroke="#000" stroke-width="1.4"/>
<path d="M531.21 222.9L539.21 235.1L523.21 235.1Z" fill="#ff0000" stroke="#000" stroke-width="1.4"/>
<path d="M540.49 216.9L548.49 229.1L532.49 229.1Z" fill="#ff0000" stroke="#000" stroke-width="1.4"/>
<path d="M549.77 197.1L557.77 209.3L541.77 209.3Z" fill="#ff0000" stroke="#000" stroke-width="1.4"/>
<path d="M559.04 223.5L567.04 235.7L551.04 235.7Z" fill="#ff0000" stroke="#000" stroke-width="1.4"/>
<path d="M568.32 224.3L576.32 236.5L560.32 236.5Z" fill="#ff0000" stroke="#000" stroke-width="1.4"/>
<path d="M577.6 215.6L585.6 227.8L569.6 227.8Z" fill="#ff0000" stroke="#000" stroke-width="1.4"/>
<path d="M122.98 294.2L130.98 306.4L114.98 306.4Z" fill="#000" stroke="#000" stroke-width="1.4"/>
<path d="M132.26 274.6L140.26 286.8L124.26 286.8Z" fill="#000" stroke="#000" stroke-width="1.4"/>
<path d="M141.53 288.2L149.53 300.4L133.53 300.4Z" fill="#000" stroke="#000" stroke-width="1.4"/>
<path d="M150.81 275.6L158.81 287.8L142.81 287.8Z" fill="#000" stroke="#000" stroke-width="1.4"/>
<path d="M160.09 286.2L168.09 298.4L152.09 298.4Z" fill="#000" stroke="#000" stroke-width="1.4"/>
<path d="M169.37 287.2L177.37 299.4L161.37 299.4Z" fill="#000" stroke="#000" stroke-width="1.4"/>
<path d="M178.65 293.7L186.65 305.9L170.65 305.9Z" fill="#000" stroke="#000" stroke-width="1.4"/>
<path d="M187.92 294.2L195.92 306.4L179.92 306.4Z" fill="#000" stroke="#000" stroke-width="1.4"/>
<path d="M197.2 289.2L205.2 301.4L189.2 301.4Z" fill="#000" stroke="#000" stroke-width="1.4"/>
<path d="M206.48 283.9L214.48 296.1L198.48 296.1Z" fill="#000" stroke="#000" stroke-width="1.4"/>
<path d="M289.98 237.7L297.98 249.9L281.98 249.9Z" fill="#000" stroke="#000" stroke-width="1.4"/>
<path d="M299.26 207.7L307.26 219.9L291.26 219.9Z" fill="#000" stroke="#000" stroke-width="1.4"/>
<path d="M308.54 232.2L316.54 244.4L300.54 244.4Z" fill="#000" stroke="#000" stroke-width="1.4"/>
<path d="M317.82 184.4L325.82 196.6L309.82 196.6Z" fill="#000" stroke="#000" stroke-width="1.4"/>
<path d="M327.09 220.1L335.09 232.3L319.09 232.3Z" fill="#000" stroke="#000" stroke-width="1.4"/>
<path d="M336.37 210.8L344.37 223L328.37 223Z" fill="#000" stroke="#000" stroke-width="1.4"/>
<path d="M345.65 226.5L353.65 238.7L337.65 238.7Z" fill="#000" stroke="#000" stroke-width="1.4"/>
<path d="M354.93 235.2L362.93 247.4L346.93 247.4Z" fill="#000" stroke="#000" stroke-width="1.4"/>
<path d="M364.21 203.8L372.21 216L356.21 216Z" fill="#000" stroke="#000" stroke-width="1.4"/>
<path d="M373.48 209L381.48 221.2L365.48 221.2Z" fill="#000" stroke="#000" stroke-width="1.4"/>
<path d="M382.76 234L390.76 246.2L374.76 246.2Z" fill="#000" stroke="#000" stroke-width="1.4"/>
<path d="M392.04 192.2L400.04 204.4L384.04 204.4Z" fill="#000" stroke="#000" stroke-width="1.4"/>
<path d="M401.32 238L409.32 250.2L393.32 250.2Z" fill="#000" stroke="#000" stroke-width="1.4"/>
<path d="M410.6 212L418.6 224.2L402.6 224.2Z" fill="#000" stroke="#000" stroke-width="1.4"/>
<path d="M419.87 242.9L427.87 255.1L411.87 255.1Z" fill="#000" stroke="#000" stroke-width="1.4"/>
<path d="M429.15 199.5L437.15 211.7L421.15 211.7Z" fill="#000" stroke="#000" stroke-width="1.4"/>
<path d="M438.43 185.6L446.43 197.8L430.43 197.8Z" fill="#000" stroke="#000" stroke-width="1.4"/>
<path d="M447.71 229.5L455.71 241.7L439.71 241.7Z" fill="#000" stroke="#000" stroke-width="1.4"/>
<path d="M456.99 200.5L464.99 212.7L448.99 212.7Z" fill="#000" stroke="#000" stroke-width="1.4"/>
<path d="M466.26 200.7L474.26 212.9L458.26 212.9Z" fill="#000" stroke="#000" stroke-width="1.4"/>
<path d="M475.54 213.4L483.54 225.6L467.54 225.6Z" fill="#000" stroke="#000" stroke-width="1.4"/>
<path d="M484.82 227.1L492.82 239.3L476.82 239.3Z" fill="#000" stroke="#000" stroke-width="1.4"/>
<path d="M494.1 213.8L502.1 226L486.1 226Z" fill="#000" stroke="#000" stroke-width="1.4"/>
<path d="M503.38 177.5L511.38 189.7L495.38 189.7Z" fill="#000" stroke="#000" stroke-width="1.4"/>
<path d="M512.65 219.9L520.65 232.1L504.65 232.1Z" fill="#000" stroke="#000" stroke-width="1.4"/>
<path d="M521.93 209L529.93 221.2L513.93 221.2Z" fill="#000" stroke="#000" stroke-width="1.4"/>
<path d="M531.21 208.4L539.21 220.6L523.21 220.6Z" fill="#000" stroke="#000" stroke-width="1.4"/>
<path d="M540.49 207.4L548.49 219.6L532.49 219.6Z" fill="#000" stroke="#000" stroke-width="1.4"/>
<path d="M549.77 206.5L557.77 218.7L541.77 218.7Z" fill="#000" stroke="#000" stroke-width="1.4"/>
<path d="M559.04 193.5L567.04 205.7L551.04 205.7Z" fill="#000" stroke="#000" stroke-width="1.4"/>
<path d="M568.32 191L576.32 203.2L560.32 203.2Z" fill="#000" stroke="#000" stroke-width="1.4"/>
<path d="M577.6 202.3L585.6 214.5L569.6 214.5Z" fill="#000" stroke="#000" stroke-width="1.4"/>
<text transform="translate(670 279.9) rotate(-90)" font-size="29.3" text-anchor="middle">Normalized eEPSP slope (%)</text>
<line x1="755.6" y1="120.3" x2="755.6" y2="431.4" stroke="#000" stroke-width="2"/>
<line x1="754.6" y1="430.4" x2="991" y2="430.4" stroke="#000" stroke-width="2"/>
<line x1="753.4" y1="430.4" x2="755.6" y2="430.4" stroke="#000" stroke-width="1"/>
<text x="742.8" y="440.9" font-size="29.3" text-anchor="end">0</text>
<line x1="753.4" y1="396.9" x2="755.6" y2="396.9" stroke="#000" stroke-width="1"/>
<text x="742.8" y="407.4" font-size="29.3" text-anchor="end">20</text>
<line x1="753.4" y1="363.4" x2="755.6" y2="363.4" stroke="#000" stroke-width="1"/>
<text x="742.8" y="373.9" font-size="29.3" text-anchor="end">40</text>
<line x1="753.4" y1="329.9" x2="755.6" y2="329.9" stroke="#000" stroke-width="1"/>
<text x="742.8" y="340.4" font-size="29.3" text-anchor="end">60</text>
<line x1="753.4" y1="296.4" x2="755.6" y2="296.4" stroke="#000" stroke-width="1"/>
<text x="742.8" y="306.9" font-size="29.3" text-anchor="end">80</text>
<line x1="753.4" y1="262.9" x2="755.6" y2="262.9" stroke="#000" stroke-width="1"/>
<text x="742.8" y="273.4" font-size="29.3" text-anchor="end">100</text>
<line x1="753.4" y1="229.4" x2="755.6" y2="229.4" stroke="#000" stroke-width="1"/>
<text x="742.8" y="239.9" font-size="29.3" text-anchor="end">120</text>
<line x1="753.4" y1="195.9" x2="755.6" y2="195.9" stroke="#000" stroke-width="1"/>
<text x="742.8" y="206.4" font-size="29.3" text-anchor="end">140</text>
<line x1="753.4" y1="162.4" x2="755.6" y2="162.4" stroke="#000" stroke-width="1"/>
<text x="742.8" y="172.9" font-size="29.3" text-anchor="end">160</text>
<line x1="753.4" y1="128.9" x2="755.6" y2="128.9" stroke="#000" stroke-width="1"/>
<text x="742.8" y="139.4" font-size="29.3" text-anchor="end">180</text>
<path d="M815.2 195.59V201.59M811.7 195.59H818.7M811.7 201.59H818.7" stroke="#555555" stroke-width="1.3" fill="none"/>
<path d="M873.6 204.47V209.47M870.1 204.47H877.1M870.1 209.47H877.1" stroke="#555555" stroke-width="1.3" fill="none"/>
<path d="M932.1 170.19V187.19M928.6 170.19H935.6M928.6 187.19H935.6" stroke="#555555" stroke-width="1.3" fill="none"/>
<rect x="797.4" y="201.59" width="35.6" height="228.81" fill="#000" stroke="#000" stroke-width="1.6"/>
<rect x="855.8" y="209.47" width="35.6" height="220.93" fill="#ff0000" stroke="#000" stroke-width="1.6"/>
<rect x="914.3" y="187.19" width="35.6" height="243.21" fill="#c0c0c0" stroke="#000" stroke-width="1.6"/>
<line x1="757" y1="262.9" x2="991" y2="262.9" stroke="#000" stroke-opacity="0.4" stroke-width="1.2" stroke-dasharray="1.2 5.66"/>
<circle cx="815.3" cy="178.7" r="6.2" fill="#fff" stroke="#000" stroke-width="1.7"/>
<circle cx="815.3" cy="192.1" r="6.2" fill="#fff" stroke="#000" stroke-width="1.7"/>
<circle cx="815.3" cy="199.9" r="6.2" fill="#fff" stroke="#000" stroke-width="1.7"/>
<circle cx="815.3" cy="209.5" r="6.2" fill="#fff" stroke="#000" stroke-width="1.7"/>
<circle cx="815.3" cy="229" r="6.2" fill="#fff" stroke="#000" stroke-width="1.7"/>
<circle cx="873.4" cy="189.5" r="6.2" fill="#ff0000" stroke="#000" stroke-width="1.7"/>
<circle cx="873.4" cy="205.7" r="6.2" fill="#ff0000" stroke="#000" stroke-width="1.7"/>
<circle cx="873.4" cy="227.7" r="6.2" fill="#ff0000" stroke="#000" stroke-width="1.7"/>
<circle cx="873.4" cy="235.3" r="6.2" fill="#ff0000" stroke="#000" stroke-width="1.7"/>
<circle cx="931.8" cy="123.6" r="6.2" fill="#c0c0c0" stroke="#000" stroke-width="1.7"/>
<circle cx="931.8" cy="163.6" r="6.2" fill="#c0c0c0" stroke="#000" stroke-width="1.7"/>
<circle cx="931.8" cy="184.5" r="6.2" fill="#c0c0c0" stroke="#000" stroke-width="1.7"/>
<circle cx="931.8" cy="192.1" r="6.2" fill="#c0c0c0" stroke="#000" stroke-width="1.7"/>
<circle cx="931.8" cy="214.8" r="6.2" fill="#c0c0c0" stroke="#000" stroke-width="1.7"/>
<circle cx="931.8" cy="243.5" r="6.2" fill="#c0c0c0" stroke="#000" stroke-width="1.7"/>
<text transform="translate(828.5 457.5) rotate(-45)" font-size="29.3" text-anchor="end">Control</text>
<text transform="translate(887 457.5) rotate(-45)" font-size="29.3" text-anchor="end">D-AP5</text>
<text transform="translate(945.5 457.5) rotate(-45)" font-size="29.3" text-anchor="end">MK-801</text>
<text transform="translate(24 851.5) rotate(-90)" font-size="29.3" text-anchor="middle">Normalized eEPSP slope (%)</text>
<line x1="114.2" y1="696.1" x2="114.2" y2="1006.8" stroke="#000" stroke-width="2"/>
<line x1="109.6" y1="1006.8" x2="114.2" y2="1006.8" stroke="#000" stroke-width="1.3"/>
<text x="97.8" y="1017.3" font-size="29.3" text-anchor="end">40</text>
<line x1="109.6" y1="964.07" x2="114.2" y2="964.07" stroke="#000" stroke-width="1.3"/>
<text x="97.8" y="974.57" font-size="29.3" text-anchor="end">60</text>
<line x1="109.6" y1="921.34" x2="114.2" y2="921.34" stroke="#000" stroke-width="1.3"/>
<text x="97.8" y="931.84" font-size="29.3" text-anchor="end">80</text>
<line x1="109.6" y1="878.61" x2="114.2" y2="878.61" stroke="#000" stroke-width="1.3"/>
<text x="97.8" y="889.11" font-size="29.3" text-anchor="end">100</text>
<line x1="109.6" y1="835.89" x2="114.2" y2="835.89" stroke="#000" stroke-width="1.3"/>
<text x="97.8" y="846.39" font-size="29.3" text-anchor="end">120</text>
<line x1="109.6" y1="793.16" x2="114.2" y2="793.16" stroke="#000" stroke-width="1.3"/>
<text x="97.8" y="803.66" font-size="29.3" text-anchor="end">140</text>
<line x1="109.6" y1="750.43" x2="114.2" y2="750.43" stroke="#000" stroke-width="1.3"/>
<text x="97.8" y="760.93" font-size="29.3" text-anchor="end">160</text>
<line x1="109.6" y1="707.7" x2="114.2" y2="707.7" stroke="#000" stroke-width="1.3"/>
<text x="97.8" y="718.2" font-size="29.3" text-anchor="end">180</text>
<line x1="112.9" y1="1012" x2="579.3" y2="1012" stroke="#000" stroke-width="2"/>
<line x1="113.9" y1="1012" x2="113.9" y2="1016.5" stroke="#000" stroke-width="1.3"/>
<text x="113.9" y="1049.7" font-size="29.3" text-anchor="middle">0</text>
<line x1="206.78" y1="1012" x2="206.78" y2="1016.5" stroke="#000" stroke-width="1.3"/>
<text x="206.78" y="1049.7" font-size="29.3" text-anchor="middle">10</text>
<line x1="299.66" y1="1012" x2="299.66" y2="1016.5" stroke="#000" stroke-width="1.3"/>
<text x="299.66" y="1049.7" font-size="29.3" text-anchor="middle">20</text>
<line x1="392.54" y1="1012" x2="392.54" y2="1016.5" stroke="#000" stroke-width="1.3"/>
<text x="392.54" y="1049.7" font-size="29.3" text-anchor="middle">30</text>
<line x1="485.42" y1="1012" x2="485.42" y2="1016.5" stroke="#000" stroke-width="1.3"/>
<text x="485.42" y="1049.7" font-size="29.3" text-anchor="middle">40</text>
<line x1="578.3" y1="1012" x2="578.3" y2="1016.5" stroke="#000" stroke-width="1.3"/>
<text x="578.3" y="1049.7" font-size="29.3" text-anchor="middle">50</text>
<text x="346.5" y="1091.7" font-size="29.3" text-anchor="middle">Time (min)</text>
<line x1="116" y1="878.62" x2="578.3" y2="878.62" stroke="#000" stroke-opacity="0.4" stroke-width="1.2" stroke-dasharray="1.2 5.66"/>
<path d="M103.2 645.2L115 645.2" fill="none" stroke="#000" stroke-width="3.8" stroke-linejoin="round" stroke-linecap="round"/>
<path d="M115.8 644L115.8 675.5" fill="none" stroke="#000" stroke-width="3.4" stroke-linejoin="round" stroke-linecap="round"/>
<path d="M117.5 654C118.08 649.67 119.83 636.5 121 628C122.17 619.5 123.42 609.5 124.5 603C125.58 596.5 126.57 591.75 127.5 589C128.43 586.25 129.18 586.75 130.1 586.5C131.02 586.25 130.78 585.38 133 587.5C135.22 589.62 139.23 594.62 143.4 599.2C147.57 603.78 151.93 609.95 158 615C164.07 620.05 173.15 625.87 179.8 629.5C186.45 633.13 192.55 634.88 197.9 636.8C203.25 638.72 209.57 640.3 211.9 641" fill="none" stroke="#000" stroke-width="3.2" stroke-linejoin="round" stroke-linecap="round"/>
<path d="M117.5 654C118.17 650.33 120.25 638.17 121.5 632C122.75 625.83 123.83 620.75 125 617C126.17 613.25 127.45 610.92 128.5 609.5C129.55 608.08 130.38 608.58 131.3 608.5C132.22 608.42 131.98 607.72 134 609C136.02 610.28 138.8 613.6 143.4 616.2C148 618.8 155.53 621.98 161.6 624.6C167.67 627.22 171.42 629.08 179.8 631.9C188.18 634.72 206.55 639.9 211.9 641.5" fill="none" stroke="#000" stroke-width="3.2" stroke-linejoin="round" stroke-linecap="round"/>
<path d="M208 640L212 641.5" fill="none" stroke="#000" stroke-width="4.5" stroke-linejoin="round" stroke-linecap="round"/>
<path d="M222 643.4L230.7 643.4" fill="none" stroke="#ff0000" stroke-width="3.2" stroke-linejoin="round" stroke-linecap="round"/>
<path d="M228.3 643.4L228.3 669.5" fill="none" stroke="#ff0000" stroke-width="3.2" stroke-linejoin="round" stroke-linecap="round"/>
<path d="M230.5 643C231.08 640.5 232.92 632.83 234 628C235.08 623.17 236.08 617.5 237 614C237.92 610.5 238.73 608.42 239.5 607C240.27 605.58 240.85 605.58 241.6 605.5C242.35 605.42 242.38 605.42 244 606.5C245.62 607.58 247.05 609.15 251.3 612C255.55 614.85 264.45 620.85 269.5 623.6C274.55 626.35 277.37 626.88 281.6 628.5C285.83 630.12 292.68 632.5 294.9 633.3" fill="none" stroke="#ff0000" stroke-width="2.6" stroke-linejoin="round" stroke-linecap="round"/>
<path d="M230.5 643C231.17 640.5 233.33 632.67 234.5 628C235.67 623.33 236.58 618.25 237.5 615C238.42 611.75 239.25 609.75 240 608.5C240.75 607.25 241.17 607.5 242 607.5C242.83 607.5 243.45 607.42 245 608.5C246.55 609.58 247.22 611.15 251.3 614C255.38 616.85 264.45 622.85 269.5 625.6C274.55 628.35 277.37 628.88 281.6 630.5C285.83 632.12 292.68 634.5 294.9 635.3" fill="none" stroke="#ff0000" stroke-width="2.6" stroke-linejoin="round" stroke-linecap="round"/>
<path d="M311.7 644.6L317.1 644.6" fill="none" stroke="#c6c6c6" stroke-width="3.2" stroke-linejoin="round" stroke-linecap="round"/>
<path d="M318.9 644L318.9 667" fill="none" stroke="#c6c6c6" stroke-width="3" stroke-linejoin="round" stroke-linecap="round"/>
<path d="M320 650C321 646 324.17 633.83 326 626C327.83 618.17 329.5 608.5 331 603C332.5 597.5 333.75 595.08 335 593C336.25 590.92 337.5 590.83 338.5 590.5C339.5 590.17 338.52 589.15 341 591C343.48 592.85 348.3 597.6 353.4 601.6C358.5 605.6 364.93 610.55 371.6 615C378.27 619.45 389.77 626.08 393.4 628.3" fill="none" stroke="#c6c6c6" stroke-width="2.8" stroke-linejoin="round" stroke-linecap="round"/>
<path d="M320 650C321.17 646.67 324.83 636.17 327 630C329.17 623.83 331.33 616.58 333 613C334.67 609.42 335.62 609.42 337 608.5C338.38 607.58 340.13 607.5 341.3 607.5C342.47 607.5 341.57 607.17 344 608.5C346.43 609.83 351.1 612.82 355.9 615.5C360.7 618.18 366.55 621.47 372.8 624.6C379.05 627.73 389.97 632.68 393.4 634.3" fill="none" stroke="#c6c6c6" stroke-width="2.8" stroke-linejoin="round" stroke-linecap="round"/>
<path d="M409.8 644.6L421.3 644.6" fill="none" stroke="#0000ff" stroke-width="3.6" stroke-linejoin="round" stroke-linecap="round"/>
<path d="M421.3 644.6L421.3 667.6" fill="none" stroke="#0000ff" stroke-width="3.4" stroke-linejoin="round" stroke-linecap="round"/>
<path d="M421.5 652C422.17 651 424.25 649.33 425.5 646C426.75 642.67 427.83 637.67 429 632C430.17 626.33 431.33 617.33 432.5 612C433.67 606.67 434.83 602.83 436 600C437.17 597.17 438.42 595.92 439.5 595C440.58 594.08 441.42 594.33 442.5 594.5C443.58 594.67 443.37 593.92 446 596C448.63 598.08 453.02 602 458.3 607C463.58 612 470.43 620.92 477.7 626C484.97 631.08 497.87 635.58 501.9 637.5" fill="none" stroke="#0000ff" stroke-width="3.2" stroke-linejoin="round" stroke-linecap="round"/>
<path d="M421.5 652C422.17 651 424.08 649 425.5 646C426.92 643 428.5 637.83 430 634C431.5 630.17 433 625.83 434.5 623C436 620.17 437.58 618.42 439 617C440.42 615.58 441.7 614.92 443 614.5C444.3 614.08 445.3 614.08 446.8 614.5C448.3 614.92 449.48 615.52 452 617C454.52 618.48 456.82 620.72 461.9 623.4C466.98 626.08 475.83 630.75 482.5 633.1C489.17 635.45 498.67 636.77 501.9 637.5" fill="none" stroke="#0000ff" stroke-width="3.2" stroke-linejoin="round" stroke-linecap="round"/>
<text x="180" y="614.4" font-size="24.5" text-anchor="middle">2</text>
<text x="138" y="656.1" font-size="24.5" text-anchor="middle">1</text>
<text x="280" y="615" font-size="24.5" text-anchor="middle">2</text>
<text x="251.5" y="656.4" font-size="24.5" text-anchor="middle">1</text>
<text x="394.2" y="616.8" font-size="24.5" text-anchor="middle">2</text>
<text x="344" y="656.4" font-size="24.5" text-anchor="middle">1</text>
<text x="487.3" y="617.1" font-size="24.5" text-anchor="middle">1</text>
<text x="451.5" y="656.7" font-size="24.5" text-anchor="middle">2</text>
<line x1="574" y1="634.7" x2="574" y2="678.8" stroke="#000" stroke-width="1.4"/>
<line x1="538.3" y1="684.1" x2="570.5" y2="684.1" stroke="#000" stroke-width="1.5"/>
<text x="505.4" y="671.3" font-size="25.3" text-anchor="start">5 mV</text>
<text x="505.4" y="712.7" font-size="25.3" text-anchor="start">50 ms</text>
<text x="240.7" y="954.9" font-size="25.3" text-anchor="middle">Post–pre</text>
<text x="240.7" y="984" font-size="25.3" text-anchor="middle">pairing</text>
<line x1="209.1" y1="918.1" x2="278.8" y2="918.1" stroke="#000" stroke-width="4.5"/>
<text x="156.8" y="962.6" font-size="24.5" text-anchor="middle">1</text>
<text x="575.2" y="987.8" font-size="24.5" text-anchor="middle">2</text>
<path d="M133.3 698.6L141.2 713.8L125.4 713.8Z" fill="#000" stroke="#000" stroke-width="1.3"/>
<text x="154.6" y="714.5" font-size="25.3" text-anchor="start">Control</text>
<rect x="125.5" y="730.3" width="16" height="16" fill="#ff0000" stroke="#000" stroke-width="1.3"/>
<text x="154.6" y="746.6" font-size="25.3" text-anchor="start">LY341495</text>
<path d="M133.3 763.7L141.2 778.9L125.4 778.9Z" fill="#c0c0c0" stroke="#000" stroke-width="1.3"/>
<text x="154.6" y="779.6" font-size="25.3" text-anchor="start">LY367385</text>
<path d="M125.4 796.4L141.2 796.4L133.3 811.6Z" fill="#4673cc" stroke="#000" stroke-width="1.3"/>
<text x="154.6" y="812.3" font-size="25.3" text-anchor="start">MPEP</text>
<path d="M123.18 864.4V878.8M118.28 864.4H128.08M118.28 878.8H128.08" stroke="#555555" stroke-width="1.3" fill="none"/>
<path d="M123.18 893.6V925M118.28 893.6H128.08M118.28 925H128.08" stroke="#555555" stroke-width="1.3" fill="none"/>
<path d="M123.18 858.7V896.7M118.28 858.7H128.08M118.28 896.7H128.08" stroke="#555555" stroke-width="1.3" fill="none"/>
<path d="M123.18 882.9V902.9M118.28 882.9H128.08M118.28 902.9H128.08" stroke="#555555" stroke-width="1.3" fill="none"/>
<path d="M132.47 833.3V857.7M127.57 833.3H137.37M127.57 857.7H137.37" stroke="#555555" stroke-width="1.3" fill="none"/>
<path d="M132.47 899.6V925M127.57 899.6H137.37M127.57 925H137.37" stroke="#555555" stroke-width="1.3" fill="none"/>
<path d="M132.47 843.4V881.4M127.57 843.4H137.37M127.57 881.4H137.37" stroke="#555555" stroke-width="1.3" fill="none"/>
<path d="M132.47 864.6V884.6M127.57 864.6H137.37M127.57 884.6H137.37" stroke="#555555" stroke-width="1.3" fill="none"/>
<path d="M141.75 877.5V910.5M136.85 877.5H146.65M136.85 910.5H146.65" stroke="#555555" stroke-width="1.3" fill="none"/>
<path d="M141.75 842.2V875.4M136.85 842.2H146.65M136.85 875.4H146.65" stroke="#555555" stroke-width="1.3" fill="none"/>
<path d="M141.75 854.8V892.8M136.85 854.8H146.65M136.85 892.8H146.65" stroke="#555555" stroke-width="1.3" fill="none"/>
<path d="M141.75 852.7V872.7M136.85 852.7H146.65M136.85 872.7H146.65" stroke="#555555" stroke-width="1.3" fill="none"/>
<path d="M151.03 848V884M146.13 848H155.93M146.13 884H155.93" stroke="#555555" stroke-width="1.3" fill="none"/>
<path d="M151.03 825.5V891.1M146.13 825.5H155.93M146.13 891.1H155.93" stroke="#555555" stroke-width="1.3" fill="none"/>
<path d="M151.03 865V895M146.13 865H155.93M146.13 895H155.93" stroke="#555555" stroke-width="1.3" fill="none"/>
<path d="M151.03 862.7V882.7M146.13 862.7H155.93M146.13 882.7H155.93" stroke="#555555" stroke-width="1.3" fill="none"/>
<path d="M160.31 862V898M155.41 862H165.22M155.41 898H165.22" stroke="#555555" stroke-width="1.3" fill="none"/>
<path d="M160.31 880.4V904.4M155.41 880.4H165.22M155.41 904.4H165.22" stroke="#555555" stroke-width="1.3" fill="none"/>
<path d="M160.31 845V902.6M155.41 845H165.22M155.41 902.6H165.22" stroke="#555555" stroke-width="1.3" fill="none"/>
<path d="M160.31 882.6V905M155.41 882.6H165.22M155.41 905H165.22" stroke="#555555" stroke-width="1.3" fill="none"/>
<path d="M169.6 860V896M164.7 860H174.5M164.7 896H174.5" stroke="#555555" stroke-width="1.3" fill="none"/>
<path d="M169.6 898.6V920M164.7 898.6H174.5M164.7 920H174.5" stroke="#555555" stroke-width="1.3" fill="none"/>
<path d="M169.6 845V880.4M164.7 845H174.5M164.7 880.4H174.5" stroke="#555555" stroke-width="1.3" fill="none"/>
<path d="M169.6 880.5V900.5M164.7 880.5H174.5M164.7 900.5H174.5" stroke="#555555" stroke-width="1.3" fill="none"/>
<path d="M178.88 881.4V916.6M173.98 881.4H183.78M173.98 916.6H183.78" stroke="#555555" stroke-width="1.3" fill="none"/>
<path d="M178.88 845.5V871.1M173.98 845.5H183.78M173.98 871.1H183.78" stroke="#555555" stroke-width="1.3" fill="none"/>
<path d="M178.88 856V894M173.98 856H183.78M173.98 894H183.78" stroke="#555555" stroke-width="1.3" fill="none"/>
<path d="M178.88 850V870M173.98 850H183.78M173.98 870H183.78" stroke="#555555" stroke-width="1.3" fill="none"/>
<path d="M188.16 866V902M183.26 866H193.06M183.26 902H193.06" stroke="#555555" stroke-width="1.3" fill="none"/>
<path d="M188.16 855V889.4M183.26 855H193.06M183.26 889.4H193.06" stroke="#555555" stroke-width="1.3" fill="none"/>
<path d="M188.16 866.5V904.5M183.26 866.5H193.06M183.26 904.5H193.06" stroke="#555555" stroke-width="1.3" fill="none"/>
<path d="M188.16 871.1V902.1M183.26 871.1H193.06M183.26 902.1H193.06" stroke="#555555" stroke-width="1.3" fill="none"/>
<path d="M197.45 858V894M192.55 858H202.35M192.55 894H202.35" stroke="#555555" stroke-width="1.3" fill="none"/>
<path d="M197.45 852V886M192.55 852H202.35M192.55 886H202.35" stroke="#555555" stroke-width="1.3" fill="none"/>
<path d="M197.45 871V900M192.55 871H202.35M192.55 900H202.35" stroke="#555555" stroke-width="1.3" fill="none"/>
<path d="M197.45 864.6V884.6M192.55 864.6H202.35M192.55 884.6H202.35" stroke="#555555" stroke-width="1.3" fill="none"/>
<path d="M206.73 849.7V885.7M201.83 849.7H211.63M201.83 885.7H211.63" stroke="#555555" stroke-width="1.3" fill="none"/>
<path d="M206.73 826.4V868.4M201.83 826.4H211.63M201.83 868.4H211.63" stroke="#555555" stroke-width="1.3" fill="none"/>
<path d="M206.73 867.4V905.2M201.83 867.4H211.63M201.83 905.2H211.63" stroke="#555555" stroke-width="1.3" fill="none"/>
<path d="M206.73 848.5V868.5M201.83 848.5H211.63M201.83 868.5H211.63" stroke="#555555" stroke-width="1.3" fill="none"/>
<path d="M290.28 793.2V826.8M285.38 793.2H295.18M285.38 826.8H295.18" stroke="#555555" stroke-width="1.3" fill="none"/>
<path d="M290.28 859.5V883.5M285.38 859.5H295.18M285.38 883.5H295.18" stroke="#555555" stroke-width="1.3" fill="none"/>
<path d="M290.28 892.7V936.9M285.38 892.7H295.18M285.38 936.9H295.18" stroke="#555555" stroke-width="1.3" fill="none"/>
<path d="M290.28 834.1V854.1M285.38 834.1H295.18M285.38 854.1H295.18" stroke="#555555" stroke-width="1.3" fill="none"/>
<path d="M299.56 762.8V805.8M294.66 762.8H304.46M294.66 805.8H304.46" stroke="#555555" stroke-width="1.3" fill="none"/>
<path d="M299.56 831.5V855.5M294.66 831.5H304.46M294.66 855.5H304.46" stroke="#555555" stroke-width="1.3" fill="none"/>
<path d="M299.56 885.2V925M294.66 885.2H304.46M294.66 925H304.46" stroke="#555555" stroke-width="1.3" fill="none"/>
<path d="M299.56 862.4V882.4M294.66 862.4H304.46M294.66 882.4H304.46" stroke="#555555" stroke-width="1.3" fill="none"/>
<path d="M308.84 809.6V851M303.94 809.6H313.74M303.94 851H313.74" stroke="#555555" stroke-width="1.3" fill="none"/>
<path d="M308.84 829.4V853.4M303.94 829.4H313.74M303.94 853.4H313.74" stroke="#555555" stroke-width="1.3" fill="none"/>
<path d="M308.84 895.4V944.8M303.94 895.4H313.74M303.94 944.8H313.74" stroke="#555555" stroke-width="1.3" fill="none"/>
<path d="M308.84 838V858M303.94 838H313.74M303.94 858H313.74" stroke="#555555" stroke-width="1.3" fill="none"/>
<path d="M318.13 730V792M313.23 730H323.03M313.23 792H323.03" stroke="#555555" stroke-width="1.3" fill="none"/>
<path d="M318.13 822.7V846.7M313.23 822.7H323.03M313.23 846.7H323.03" stroke="#555555" stroke-width="1.3" fill="none"/>
<path d="M318.13 877.4V915M313.23 877.4H323.03M313.23 915H323.03" stroke="#555555" stroke-width="1.3" fill="none"/>
<path d="M318.13 846.8V866.8M313.23 846.8H323.03M313.23 866.8H323.03" stroke="#555555" stroke-width="1.3" fill="none"/>
<path d="M327.41 767.2V835M322.51 767.2H332.31M322.51 835H332.31" stroke="#555555" stroke-width="1.3" fill="none"/>
<path d="M327.41 806.8V830.8M322.51 806.8H332.31M322.51 830.8H332.31" stroke="#555555" stroke-width="1.3" fill="none"/>
<path d="M327.41 884.6V916.6M322.51 884.6H332.31M322.51 916.6H332.31" stroke="#555555" stroke-width="1.3" fill="none"/>
<path d="M327.41 842V862M322.51 842H332.31M322.51 862H332.31" stroke="#555555" stroke-width="1.3" fill="none"/>
<path d="M336.69 765.4V806.8M331.79 765.4H341.59M331.79 806.8H341.59" stroke="#555555" stroke-width="1.3" fill="none"/>
<path d="M336.69 816.5V840.5M331.79 816.5H341.59M331.79 840.5H341.59" stroke="#555555" stroke-width="1.3" fill="none"/>
<path d="M336.69 890V944.8M331.79 890H341.59M331.79 944.8H341.59" stroke="#555555" stroke-width="1.3" fill="none"/>
<path d="M336.69 833.5V853.5M331.79 833.5H341.59M331.79 853.5H341.59" stroke="#555555" stroke-width="1.3" fill="none"/>
<path d="M345.98 779.5V813.1M341.08 779.5H350.88M341.08 813.1H350.88" stroke="#555555" stroke-width="1.3" fill="none"/>
<path d="M345.98 802.9V826.9M341.08 802.9H350.88M341.08 826.9H350.88" stroke="#555555" stroke-width="1.3" fill="none"/>
<path d="M345.98 892.8V938.6M341.08 892.8H350.88M341.08 938.6H350.88" stroke="#555555" stroke-width="1.3" fill="none"/>
<path d="M345.98 819V839M341.08 819H350.88M341.08 839H350.88" stroke="#555555" stroke-width="1.3" fill="none"/>
<path d="M355.26 790V836.2M350.36 790H360.16M350.36 836.2H360.16" stroke="#555555" stroke-width="1.3" fill="none"/>
<path d="M355.26 833.3V857.3M350.36 833.3H360.16M350.36 857.3H360.16" stroke="#555555" stroke-width="1.3" fill="none"/>
<path d="M355.26 887.2V930M350.36 887.2H360.16M350.36 930H360.16" stroke="#555555" stroke-width="1.3" fill="none"/>
<path d="M355.26 806.7V826.7M350.36 806.7H360.16M350.36 826.7H360.16" stroke="#555555" stroke-width="1.3" fill="none"/>
<path d="M364.54 740.7V793.7M359.64 740.7H369.44M359.64 793.7H369.44" stroke="#555555" stroke-width="1.3" fill="none"/>
<path d="M364.54 818.3V842.3M359.64 818.3H369.44M359.64 842.3H369.44" stroke="#555555" stroke-width="1.3" fill="none"/>
<path d="M364.54 913.9V950.1M359.64 913.9H369.44M359.64 950.1H369.44" stroke="#555555" stroke-width="1.3" fill="none"/>
<path d="M364.54 828.2V848.2M359.64 828.2H369.44M359.64 848.2H369.44" stroke="#555555" stroke-width="1.3" fill="none"/>
<path d="M373.82 730V785M368.92 730H378.72M368.92 785H378.72" stroke="#555555" stroke-width="1.3" fill="none"/>
<path d="M373.82 851.9V875.9M368.92 851.9H378.72M368.92 875.9H378.72" stroke="#555555" stroke-width="1.3" fill="none"/>
<path d="M373.82 914.8V978.4M368.92 914.8H378.72M368.92 978.4H378.72" stroke="#555555" stroke-width="1.3" fill="none"/>
<path d="M373.82 820.3V840.3M368.92 820.3H378.72M368.92 840.3H378.72" stroke="#555555" stroke-width="1.3" fill="none"/>
<path d="M383.11 792.8V833.8M378.21 792.8H388.01M378.21 833.8H388.01" stroke="#555555" stroke-width="1.3" fill="none"/>
<path d="M383.11 847.5V871.5M378.21 847.5H388.01M378.21 871.5H388.01" stroke="#555555" stroke-width="1.3" fill="none"/>
<path d="M383.11 916V982.8M378.21 916H388.01M378.21 982.8H388.01" stroke="#555555" stroke-width="1.3" fill="none"/>
<path d="M383.11 820.3V840.3M378.21 820.3H388.01M378.21 840.3H388.01" stroke="#555555" stroke-width="1.3" fill="none"/>
<path d="M392.39 718.6V793.4M387.49 718.6H397.29M387.49 793.4H397.29" stroke="#555555" stroke-width="1.3" fill="none"/>
<path d="M392.39 818.8V842.8M387.49 818.8H397.29M387.49 842.8H397.29" stroke="#555555" stroke-width="1.3" fill="none"/>
<path d="M392.39 913.8V944.8M387.49 913.8H397.29M387.49 944.8H397.29" stroke="#555555" stroke-width="1.3" fill="none"/>
<path d="M392.39 822.9V842.9M387.49 822.9H397.29M387.49 842.9H397.29" stroke="#555555" stroke-width="1.3" fill="none"/>
<path d="M401.67 705.7V801.1M396.77 705.7H406.57M396.77 801.1H406.57" stroke="#555555" stroke-width="1.3" fill="none"/>
<path d="M401.67 865.1V889.1M396.77 865.1H406.57M396.77 889.1H406.57" stroke="#555555" stroke-width="1.3" fill="none"/>
<path d="M401.67 897.8V966M396.77 897.8H406.57M396.77 966H406.57" stroke="#555555" stroke-width="1.3" fill="none"/>
<path d="M401.67 824.7V844.7M396.77 824.7H406.57M396.77 844.7H406.57" stroke="#555555" stroke-width="1.3" fill="none"/>
<path d="M410.96 741.5V805.3M406.06 741.5H415.86M406.06 805.3H415.86" stroke="#555555" stroke-width="1.3" fill="none"/>
<path d="M410.96 850.1V874.1M406.06 850.1H415.86M406.06 874.1H415.86" stroke="#555555" stroke-width="1.3" fill="none"/>
<path d="M410.96 911.1V988.1M406.06 911.1H415.86M406.06 988.1H415.86" stroke="#555555" stroke-width="1.3" fill="none"/>
<path d="M410.96 804V824M406.06 804H415.86M406.06 824H415.86" stroke="#555555" stroke-width="1.3" fill="none"/>
<path d="M420.24 703.2V794M415.34 703.2H425.14M415.34 794H425.14" stroke="#555555" stroke-width="1.3" fill="none"/>
<path d="M420.24 863.4V887.4M415.34 863.4H425.14M415.34 887.4H425.14" stroke="#555555" stroke-width="1.3" fill="none"/>
<path d="M420.24 914.8V967.8M415.34 914.8H425.14M415.34 967.8H425.14" stroke="#555555" stroke-width="1.3" fill="none"/>
<path d="M420.24 827V847M415.34 827H425.14M415.34 847H425.14" stroke="#555555" stroke-width="1.3" fill="none"/>
<path d="M429.52 723V786.6M424.62 723H434.42M424.62 786.6H434.42" stroke="#555555" stroke-width="1.3" fill="none"/>
<path d="M429.52 877.5V901.5M424.62 877.5H434.42M424.62 901.5H434.42" stroke="#555555" stroke-width="1.3" fill="none"/>
<path d="M429.52 894.2V937.8M424.62 894.2H434.42M424.62 937.8H434.42" stroke="#555555" stroke-width="1.3" fill="none"/>
<path d="M429.52 808.4V828.4M424.62 808.4H434.42M424.62 828.4H434.42" stroke="#555555" stroke-width="1.3" fill="none"/>
<path d="M438.8 720.3V780.5M433.9 720.3H443.7M433.9 780.5H443.7" stroke="#555555" stroke-width="1.3" fill="none"/>
<path d="M438.8 857.2V881.2M433.9 857.2H443.7M433.9 881.2H443.7" stroke="#555555" stroke-width="1.3" fill="none"/>
<path d="M438.8 886.2V930M433.9 886.2H443.7M433.9 930H443.7" stroke="#555555" stroke-width="1.3" fill="none"/>
<path d="M438.8 821.2V841.2M433.9 821.2H443.7M433.9 841.2H443.7" stroke="#555555" stroke-width="1.3" fill="none"/>
<path d="M448.09 712.7V803.9M443.19 712.7H452.99M443.19 803.9H452.99" stroke="#555555" stroke-width="1.3" fill="none"/>
<path d="M448.09 859.8V883.8M443.19 859.8H452.99M443.19 883.8H452.99" stroke="#555555" stroke-width="1.3" fill="none"/>
<path d="M448.09 907.6V952.8M443.19 907.6H452.99M443.19 952.8H452.99" stroke="#555555" stroke-width="1.3" fill="none"/>
<path d="M448.09 825.6V845.6M443.19 825.6H452.99M443.19 845.6H452.99" stroke="#555555" stroke-width="1.3" fill="none"/>
<path d="M457.37 750.9V793.1M452.47 750.9H462.27M452.47 793.1H462.27" stroke="#555555" stroke-width="1.3" fill="none"/>
<path d="M457.37 866.9V890.9M452.47 866.9H462.27M452.47 890.9H462.27" stroke="#555555" stroke-width="1.3" fill="none"/>
<path d="M457.37 909.4V949.2M452.47 909.4H462.27M452.47 949.2H462.27" stroke="#555555" stroke-width="1.3" fill="none"/>
<path d="M457.37 812.9V832.9M452.47 812.9H462.27M452.47 832.9H462.27" stroke="#555555" stroke-width="1.3" fill="none"/>
<path d="M466.65 757.5V796.9M461.75 757.5H471.55M461.75 796.9H471.55" stroke="#555555" stroke-width="1.3" fill="none"/>
<path d="M466.65 881.9V905.9M461.75 881.9H471.55M461.75 905.9H471.55" stroke="#555555" stroke-width="1.3" fill="none"/>
<path d="M466.65 906.8V940.4M461.75 906.8H471.55M461.75 940.4H471.55" stroke="#555555" stroke-width="1.3" fill="none"/>
<path d="M466.65 792.9V812.9M461.75 792.9H471.55M461.75 812.9H471.55" stroke="#555555" stroke-width="1.3" fill="none"/>
<path d="M475.94 766.8V807.2M471.04 766.8H480.84M471.04 807.2H480.84" stroke="#555555" stroke-width="1.3" fill="none"/>
<path d="M475.94 854.5V878.5M471.04 854.5H480.84M471.04 878.5H480.84" stroke="#555555" stroke-width="1.3" fill="none"/>
<path d="M475.94 913.8V957.2M471.04 913.8H480.84M471.04 957.2H480.84" stroke="#555555" stroke-width="1.3" fill="none"/>
<path d="M475.94 816.7V836.7M471.04 816.7H480.84M471.04 836.7H480.84" stroke="#555555" stroke-width="1.3" fill="none"/>
<path d="M485.22 744.2V794.6M480.32 744.2H490.12M480.32 794.6H490.12" stroke="#555555" stroke-width="1.3" fill="none"/>
<path d="M485.22 849.6V873.6M480.32 849.6H490.12M480.32 873.6H490.12" stroke="#555555" stroke-width="1.3" fill="none"/>
<path d="M485.22 916.8V946.6M480.32 916.8H490.12M480.32 946.6H490.12" stroke="#555555" stroke-width="1.3" fill="none"/>
<path d="M485.22 820.5V840.5M480.32 820.5H490.12M480.32 840.5H490.12" stroke="#555555" stroke-width="1.3" fill="none"/>
<path d="M494.5 730.9V788.3M489.6 730.9H499.4M489.6 788.3H499.4" stroke="#555555" stroke-width="1.3" fill="none"/>
<path d="M494.5 872.2V896.2M489.6 872.2H499.4M489.6 896.2H499.4" stroke="#555555" stroke-width="1.3" fill="none"/>
<path d="M494.5 905.8V945M489.6 905.8H499.4M489.6 945H499.4" stroke="#555555" stroke-width="1.3" fill="none"/>
<path d="M494.5 819.9V839.9M489.6 819.9H499.4M489.6 839.9H499.4" stroke="#555555" stroke-width="1.3" fill="none"/>
<path d="M503.79 751.3V804.3M498.89 751.3H508.69M498.89 804.3H508.69" stroke="#555555" stroke-width="1.3" fill="none"/>
<path d="M503.79 850.1V874.1M498.89 850.1H508.69M498.89 874.1H508.69" stroke="#555555" stroke-width="1.3" fill="none"/>
<path d="M503.79 924.4V954.6M498.89 924.4H508.69M498.89 954.6H508.69" stroke="#555555" stroke-width="1.3" fill="none"/>
<path d="M503.79 803.5V823.5M498.89 803.5H508.69M498.89 823.5H508.69" stroke="#555555" stroke-width="1.3" fill="none"/>
<path d="M513.07 775V822M508.17 775H517.97M508.17 822H517.97" stroke="#555555" stroke-width="1.3" fill="none"/>
<path d="M513.07 853.6V877.6M508.17 853.6H517.97M508.17 877.6H517.97" stroke="#555555" stroke-width="1.3" fill="none"/>
<path d="M513.07 905.8V945M508.17 905.8H517.97M508.17 945H517.97" stroke="#555555" stroke-width="1.3" fill="none"/>
<path d="M513.07 798.2V818.2M508.17 798.2H517.97M508.17 818.2H517.97" stroke="#555555" stroke-width="1.3" fill="none"/>
<path d="M522.35 753V805M517.45 753H527.25M517.45 805H527.25" stroke="#555555" stroke-width="1.3" fill="none"/>
<path d="M522.35 846.6V870.6M517.45 846.6H527.25M517.45 870.6H527.25" stroke="#555555" stroke-width="1.3" fill="none"/>
<path d="M522.35 903.6V940M517.45 903.6H527.25M517.45 940H527.25" stroke="#555555" stroke-width="1.3" fill="none"/>
<path d="M522.35 806.1V826.1M517.45 806.1H527.25M517.45 826.1H527.25" stroke="#555555" stroke-width="1.3" fill="none"/>
<path d="M531.63 758V800M526.74 758H536.53M526.74 800H536.53" stroke="#555555" stroke-width="1.3" fill="none"/>
<path d="M531.63 840.4V864.4M526.74 840.4H536.53M526.74 864.4H536.53" stroke="#555555" stroke-width="1.3" fill="none"/>
<path d="M531.63 911.6V948M526.74 911.6H536.53M526.74 948H536.53" stroke="#555555" stroke-width="1.3" fill="none"/>
<path d="M531.63 806.7V826.7M526.74 806.7H536.53M526.74 826.7H536.53" stroke="#555555" stroke-width="1.3" fill="none"/>
<path d="M540.92 776.9V810.5M536.02 776.9H545.82M536.02 810.5H545.82" stroke="#555555" stroke-width="1.3" fill="none"/>
<path d="M540.92 839.5V863.5M536.02 839.5H545.82M536.02 863.5H545.82" stroke="#555555" stroke-width="1.3" fill="none"/>
<path d="M540.92 911V945M536.02 911H545.82M536.02 945H545.82" stroke="#555555" stroke-width="1.3" fill="none"/>
<path d="M540.92 795.2V815.2M536.02 795.2H545.82M536.02 815.2H545.82" stroke="#555555" stroke-width="1.3" fill="none"/>
<path d="M550.2 770V813.8M545.3 770H555.1M545.3 813.8H555.1" stroke="#555555" stroke-width="1.3" fill="none"/>
<path d="M550.2 861.6V885.6M545.3 861.6H555.1M545.3 885.6H555.1" stroke="#555555" stroke-width="1.3" fill="none"/>
<path d="M550.2 918.4V950M545.3 918.4H555.1M545.3 950H555.1" stroke="#555555" stroke-width="1.3" fill="none"/>
<path d="M550.2 820.3V840.3M545.3 820.3H555.1M545.3 840.3H555.1" stroke="#555555" stroke-width="1.3" fill="none"/>
<path d="M559.48 770V813.8M554.58 770H564.38M554.58 813.8H564.38" stroke="#555555" stroke-width="1.3" fill="none"/>
<path d="M559.48 855.4V879.4M554.58 855.4H564.38M554.58 879.4H564.38" stroke="#555555" stroke-width="1.3" fill="none"/>
<path d="M559.48 916.4V997M554.58 916.4H564.38M554.58 997H564.38" stroke="#555555" stroke-width="1.3" fill="none"/>
<path d="M559.48 807V827M554.58 807H564.38M554.58 827H564.38" stroke="#555555" stroke-width="1.3" fill="none"/>
<path d="M568.77 746.8V785.8M563.87 746.8H573.67M563.87 785.8H573.67" stroke="#555555" stroke-width="1.3" fill="none"/>
<path d="M568.77 852.8V876.8M563.87 852.8H573.67M563.87 876.8H573.67" stroke="#555555" stroke-width="1.3" fill="none"/>
<path d="M568.77 911.4V950M563.87 911.4H573.67M563.87 950H573.67" stroke="#555555" stroke-width="1.3" fill="none"/>
<path d="M568.77 800V820M563.87 800H573.67M563.87 820H573.67" stroke="#555555" stroke-width="1.3" fill="none"/>
<path d="M578.05 717.7V796.3M573.15 717.7H582.95M573.15 796.3H582.95" stroke="#555555" stroke-width="1.3" fill="none"/>
<path d="M578.05 861.6V885.6M573.15 861.6H582.95M573.15 885.6H582.95" stroke="#555555" stroke-width="1.3" fill="none"/>
<path d="M578.05 920.6V955M573.15 920.6H582.95M573.15 955H582.95" stroke="#555555" stroke-width="1.3" fill="none"/>
<path d="M578.05 802V822M573.15 802H582.95M573.15 822H582.95" stroke="#555555" stroke-width="1.3" fill="none"/>
<path d="M123.18 865.2L131.38 878L114.98 878Z" fill="#000" stroke="#000" stroke-width="1.4"/>
<path d="M132.47 839.1L140.67 851.9L124.27 851.9Z" fill="#000" stroke="#000" stroke-width="1.4"/>
<path d="M141.75 887.6L149.95 900.4L133.55 900.4Z" fill="#000" stroke="#000" stroke-width="1.4"/>
<path d="M151.03 859.6L159.23 872.4L142.83 872.4Z" fill="#000" stroke="#000" stroke-width="1.4"/>
<path d="M160.31 873.6L168.51 886.4L152.12 886.4Z" fill="#000" stroke="#000" stroke-width="1.4"/>
<path d="M169.6 871.6L177.8 884.4L161.4 884.4Z" fill="#000" stroke="#000" stroke-width="1.4"/>
<path d="M178.88 892.6L187.08 905.4L170.68 905.4Z" fill="#000" stroke="#000" stroke-width="1.4"/>
<path d="M188.16 877.6L196.36 890.4L179.96 890.4Z" fill="#000" stroke="#000" stroke-width="1.4"/>
<path d="M197.45 869.6L205.65 882.4L189.25 882.4Z" fill="#000" stroke="#000" stroke-width="1.4"/>
<path d="M206.73 861.3L214.93 874.1L198.53 874.1Z" fill="#000" stroke="#000" stroke-width="1.4"/>
<path d="M290.28 803.6L298.48 816.4L282.08 816.4Z" fill="#000" stroke="#000" stroke-width="1.4"/>
<path d="M299.56 777.9L307.76 790.7L291.36 790.7Z" fill="#000" stroke="#000" stroke-width="1.4"/>
<path d="M308.84 823.9L317.04 836.7L300.64 836.7Z" fill="#000" stroke="#000" stroke-width="1.4"/>
<path d="M318.13 754.6L326.33 767.4L309.93 767.4Z" fill="#000" stroke="#000" stroke-width="1.4"/>
<path d="M327.41 794.7L335.61 807.5L319.21 807.5Z" fill="#000" stroke="#000" stroke-width="1.4"/>
<path d="M336.69 779.7L344.89 792.5L328.49 792.5Z" fill="#000" stroke="#000" stroke-width="1.4"/>
<path d="M345.98 789.9L354.18 802.7L337.78 802.7Z" fill="#000" stroke="#000" stroke-width="1.4"/>
<path d="M355.26 806.7L363.46 819.5L347.06 819.5Z" fill="#000" stroke="#000" stroke-width="1.4"/>
<path d="M364.54 760.8L372.74 773.6L356.34 773.6Z" fill="#000" stroke="#000" stroke-width="1.4"/>
<path d="M373.82 751.1L382.02 763.9L365.62 763.9Z" fill="#000" stroke="#000" stroke-width="1.4"/>
<path d="M383.11 806.9L391.31 819.7L374.91 819.7Z" fill="#000" stroke="#000" stroke-width="1.4"/>
<path d="M392.39 749.6L400.59 762.4L384.19 762.4Z" fill="#000" stroke="#000" stroke-width="1.4"/>
<path d="M401.67 747L409.87 759.8L393.47 759.8Z" fill="#000" stroke="#000" stroke-width="1.4"/>
<path d="M410.96 767L419.16 779.8L402.76 779.8Z" fill="#000" stroke="#000" stroke-width="1.4"/>
<path d="M420.24 742.2L428.44 755L412.04 755Z" fill="#000" stroke="#000" stroke-width="1.4"/>
<path d="M429.52 748.4L437.72 761.2L421.32 761.2Z" fill="#000" stroke="#000" stroke-width="1.4"/>
<path d="M438.8 744L447 756.8L430.6 756.8Z" fill="#000" stroke="#000" stroke-width="1.4"/>
<path d="M448.09 751.9L456.29 764.7L439.89 764.7Z" fill="#000" stroke="#000" stroke-width="1.4"/>
<path d="M457.37 765.6L465.57 778.4L449.17 778.4Z" fill="#000" stroke="#000" stroke-width="1.4"/>
<path d="M466.65 770.8L474.85 783.6L458.45 783.6Z" fill="#000" stroke="#000" stroke-width="1.4"/>
<path d="M475.94 780.6L484.14 793.4L467.74 793.4Z" fill="#000" stroke="#000" stroke-width="1.4"/>
<path d="M485.22 763L493.42 775.8L477.02 775.8Z" fill="#000" stroke="#000" stroke-width="1.4"/>
<path d="M494.5 753.2L502.7 766L486.3 766Z" fill="#000" stroke="#000" stroke-width="1.4"/>
<path d="M503.79 771.4L511.99 784.2L495.59 784.2Z" fill="#000" stroke="#000" stroke-width="1.4"/>
<path d="M513.07 792.1L521.27 804.9L504.87 804.9Z" fill="#000" stroke="#000" stroke-width="1.4"/>
<path d="M522.35 772.6L530.55 785.4L514.15 785.4Z" fill="#000" stroke="#000" stroke-width="1.4"/>
<path d="M531.63 772.6L539.84 785.4L523.43 785.4Z" fill="#000" stroke="#000" stroke-width="1.4"/>
<path d="M540.92 787.3L549.12 800.1L532.72 800.1Z" fill="#000" stroke="#000" stroke-width="1.4"/>
<path d="M550.2 785.5L558.4 798.3L542 798.3Z" fill="#000" stroke="#000" stroke-width="1.4"/>
<path d="M559.48 785.5L567.68 798.3L551.28 798.3Z" fill="#000" stroke="#000" stroke-width="1.4"/>
<path d="M568.77 759.9L576.97 772.7L560.57 772.7Z" fill="#000" stroke="#000" stroke-width="1.4"/>
<path d="M578.05 750.6L586.25 763.4L569.85 763.4Z" fill="#000" stroke="#000" stroke-width="1.4"/>
<rect x="116.58" y="902.7" width="13.2" height="13.2" fill="#ff0000" stroke="#000" stroke-width="1.4"/>
<rect x="125.87" y="905.7" width="13.2" height="13.2" fill="#ff0000" stroke="#000" stroke-width="1.4"/>
<rect x="135.15" y="852.2" width="13.2" height="13.2" fill="#ff0000" stroke="#000" stroke-width="1.4"/>
<rect x="144.43" y="851.7" width="13.2" height="13.2" fill="#ff0000" stroke="#000" stroke-width="1.4"/>
<rect x="153.72" y="885.8" width="13.2" height="13.2" fill="#ff0000" stroke="#000" stroke-width="1.4"/>
<rect x="163" y="902.7" width="13.2" height="13.2" fill="#ff0000" stroke="#000" stroke-width="1.4"/>
<rect x="172.28" y="851.7" width="13.2" height="13.2" fill="#ff0000" stroke="#000" stroke-width="1.4"/>
<rect x="181.56" y="865.6" width="13.2" height="13.2" fill="#ff0000" stroke="#000" stroke-width="1.4"/>
<rect x="190.85" y="862.4" width="13.2" height="13.2" fill="#ff0000" stroke="#000" stroke-width="1.4"/>
<rect x="200.13" y="840.8" width="13.2" height="13.2" fill="#ff0000" stroke="#000" stroke-width="1.4"/>
<rect x="283.68" y="864.9" width="13.2" height="13.2" fill="#ff0000" stroke="#000" stroke-width="1.4"/>
<rect x="292.96" y="836.9" width="13.2" height="13.2" fill="#ff0000" stroke="#000" stroke-width="1.4"/>
<rect x="302.24" y="834.8" width="13.2" height="13.2" fill="#ff0000" stroke="#000" stroke-width="1.4"/>
<rect x="311.53" y="828.1" width="13.2" height="13.2" fill="#ff0000" stroke="#000" stroke-width="1.4"/>
<rect x="320.81" y="812.2" width="13.2" height="13.2" fill="#ff0000" stroke="#000" stroke-width="1.4"/>
<rect x="330.09" y="821.9" width="13.2" height="13.2" fill="#ff0000" stroke="#000" stroke-width="1.4"/>
<rect x="339.38" y="808.3" width="13.2" height="13.2" fill="#ff0000" stroke="#000" stroke-width="1.4"/>
<rect x="348.66" y="838.7" width="13.2" height="13.2" fill="#ff0000" stroke="#000" stroke-width="1.4"/>
<rect x="357.94" y="823.7" width="13.2" height="13.2" fill="#ff0000" stroke="#000" stroke-width="1.4"/>
<rect x="367.22" y="857.3" width="13.2" height="13.2" fill="#ff0000" stroke="#000" stroke-width="1.4"/>
<rect x="376.51" y="852.9" width="13.2" height="13.2" fill="#ff0000" stroke="#000" stroke-width="1.4"/>
<rect x="385.79" y="824.2" width="13.2" height="13.2" fill="#ff0000" stroke="#000" stroke-width="1.4"/>
<rect x="395.07" y="870.5" width="13.2" height="13.2" fill="#ff0000" stroke="#000" stroke-width="1.4"/>
<rect x="404.36" y="855.5" width="13.2" height="13.2" fill="#ff0000" stroke="#000" stroke-width="1.4"/>
<rect x="413.64" y="868.8" width="13.2" height="13.2" fill="#ff0000" stroke="#000" stroke-width="1.4"/>
<rect x="422.92" y="882.9" width="13.2" height="13.2" fill="#ff0000" stroke="#000" stroke-width="1.4"/>
<rect x="432.2" y="862.6" width="13.2" height="13.2" fill="#ff0000" stroke="#000" stroke-width="1.4"/>
<rect x="441.49" y="865.2" width="13.2" height="13.2" fill="#ff0000" stroke="#000" stroke-width="1.4"/>
<rect x="450.77" y="872.3" width="13.2" height="13.2" fill="#ff0000" stroke="#000" stroke-width="1.4"/>
<rect x="460.05" y="887.3" width="13.2" height="13.2" fill="#ff0000" stroke="#000" stroke-width="1.4"/>
<rect x="469.34" y="859.9" width="13.2" height="13.2" fill="#ff0000" stroke="#000" stroke-width="1.4"/>
<rect x="478.62" y="855" width="13.2" height="13.2" fill="#ff0000" stroke="#000" stroke-width="1.4"/>
<rect x="487.9" y="877.6" width="13.2" height="13.2" fill="#ff0000" stroke="#000" stroke-width="1.4"/>
<rect x="497.19" y="855.5" width="13.2" height="13.2" fill="#ff0000" stroke="#000" stroke-width="1.4"/>
<rect x="506.47" y="859" width="13.2" height="13.2" fill="#ff0000" stroke="#000" stroke-width="1.4"/>
<rect x="515.75" y="852" width="13.2" height="13.2" fill="#ff0000" stroke="#000" stroke-width="1.4"/>
<rect x="525.03" y="845.8" width="13.2" height="13.2" fill="#ff0000" stroke="#000" stroke-width="1.4"/>
<rect x="534.32" y="844.9" width="13.2" height="13.2" fill="#ff0000" stroke="#000" stroke-width="1.4"/>
<rect x="543.6" y="867" width="13.2" height="13.2" fill="#ff0000" stroke="#000" stroke-width="1.4"/>
<rect x="552.88" y="860.8" width="13.2" height="13.2" fill="#ff0000" stroke="#000" stroke-width="1.4"/>
<rect x="562.17" y="858.2" width="13.2" height="13.2" fill="#ff0000" stroke="#000" stroke-width="1.4"/>
<rect x="571.45" y="867" width="13.2" height="13.2" fill="#ff0000" stroke="#000" stroke-width="1.4"/>
<path d="M114.78 871.1L131.58 871.1L123.18 884.3Z" fill="#0000ff" stroke="#000" stroke-width="1.4"/>
<path d="M124.07 855.8L140.87 855.8L132.47 869Z" fill="#0000ff" stroke="#000" stroke-width="1.4"/>
<path d="M133.35 867.2L150.15 867.2L141.75 880.4Z" fill="#0000ff" stroke="#000" stroke-width="1.4"/>
<path d="M142.63 873.4L159.43 873.4L151.03 886.6Z" fill="#0000ff" stroke="#000" stroke-width="1.4"/>
<path d="M151.91 867.2L168.72 867.2L160.31 880.4Z" fill="#0000ff" stroke="#000" stroke-width="1.4"/>
<path d="M161.2 856.1L178 856.1L169.6 869.3Z" fill="#0000ff" stroke="#000" stroke-width="1.4"/>
<path d="M170.48 868.4L187.28 868.4L178.88 881.6Z" fill="#0000ff" stroke="#000" stroke-width="1.4"/>
<path d="M179.76 878.9L196.56 878.9L188.16 892.1Z" fill="#0000ff" stroke="#000" stroke-width="1.4"/>
<path d="M189.05 878.9L205.85 878.9L197.45 892.1Z" fill="#0000ff" stroke="#000" stroke-width="1.4"/>
<path d="M198.33 879.7L215.13 879.7L206.73 892.9Z" fill="#0000ff" stroke="#000" stroke-width="1.4"/>
<path d="M281.88 908.2L298.68 908.2L290.28 921.4Z" fill="#0000ff" stroke="#000" stroke-width="1.4"/>
<path d="M291.16 898.5L307.96 898.5L299.56 911.7Z" fill="#0000ff" stroke="#000" stroke-width="1.4"/>
<path d="M300.44 913.5L317.24 913.5L308.84 926.7Z" fill="#0000ff" stroke="#000" stroke-width="1.4"/>
<path d="M309.73 889.6L326.53 889.6L318.13 902.8Z" fill="#0000ff" stroke="#000" stroke-width="1.4"/>
<path d="M319.01 894L335.81 894L327.41 907.2Z" fill="#0000ff" stroke="#000" stroke-width="1.4"/>
<path d="M328.29 910.8L345.09 910.8L336.69 924Z" fill="#0000ff" stroke="#000" stroke-width="1.4"/>
<path d="M337.58 909.1L354.38 909.1L345.98 922.3Z" fill="#0000ff" stroke="#000" stroke-width="1.4"/>
<path d="M346.86 902L363.66 902L355.26 915.2Z" fill="#0000ff" stroke="#000" stroke-width="1.4"/>
<path d="M356.14 925.4L372.94 925.4L364.54 938.6Z" fill="#0000ff" stroke="#000" stroke-width="1.4"/>
<path d="M365.42 940L382.22 940L373.82 953.2Z" fill="#0000ff" stroke="#000" stroke-width="1.4"/>
<path d="M374.71 942.8L391.51 942.8L383.11 956Z" fill="#0000ff" stroke="#000" stroke-width="1.4"/>
<path d="M383.99 922.7L400.79 922.7L392.39 935.9Z" fill="#0000ff" stroke="#000" stroke-width="1.4"/>
<path d="M393.27 925.3L410.07 925.3L401.67 938.5Z" fill="#0000ff" stroke="#000" stroke-width="1.4"/>
<path d="M402.56 943L419.36 943L410.96 956.2Z" fill="#0000ff" stroke="#000" stroke-width="1.4"/>
<path d="M411.84 934.7L428.64 934.7L420.24 947.9Z" fill="#0000ff" stroke="#000" stroke-width="1.4"/>
<path d="M421.12 909.4L437.92 909.4L429.52 922.6Z" fill="#0000ff" stroke="#000" stroke-width="1.4"/>
<path d="M430.4 901.5L447.2 901.5L438.8 914.7Z" fill="#0000ff" stroke="#000" stroke-width="1.4"/>
<path d="M439.69 923.6L456.49 923.6L448.09 936.8Z" fill="#0000ff" stroke="#000" stroke-width="1.4"/>
<path d="M448.97 922.7L465.77 922.7L457.37 935.9Z" fill="#0000ff" stroke="#000" stroke-width="1.4"/>
<path d="M458.25 917L475.05 917L466.65 930.2Z" fill="#0000ff" stroke="#000" stroke-width="1.4"/>
<path d="M467.54 928.9L484.34 928.9L475.94 942.1Z" fill="#0000ff" stroke="#000" stroke-width="1.4"/>
<path d="M476.82 925.1L493.62 925.1L485.22 938.3Z" fill="#0000ff" stroke="#000" stroke-width="1.4"/>
<path d="M486.1 918.8L502.9 918.8L494.5 932Z" fill="#0000ff" stroke="#000" stroke-width="1.4"/>
<path d="M495.39 932.9L512.19 932.9L503.79 946.1Z" fill="#0000ff" stroke="#000" stroke-width="1.4"/>
<path d="M504.67 918.8L521.47 918.8L513.07 932Z" fill="#0000ff" stroke="#000" stroke-width="1.4"/>
<path d="M513.95 915.2L530.75 915.2L522.35 928.4Z" fill="#0000ff" stroke="#000" stroke-width="1.4"/>
<path d="M523.24 923.2L540.03 923.2L531.63 936.4Z" fill="#0000ff" stroke="#000" stroke-width="1.4"/>
<path d="M532.52 921.4L549.32 921.4L540.92 934.6Z" fill="#0000ff" stroke="#000" stroke-width="1.4"/>
<path d="M541.8 927.6L558.6 927.6L550.2 940.8Z" fill="#0000ff" stroke="#000" stroke-width="1.4"/>
<path d="M551.08 950.1L567.88 950.1L559.48 963.3Z" fill="#0000ff" stroke="#000" stroke-width="1.4"/>
<path d="M560.37 924.1L577.17 924.1L568.77 937.3Z" fill="#0000ff" stroke="#000" stroke-width="1.4"/>
<path d="M569.65 931.2L586.45 931.2L578.05 944.4Z" fill="#0000ff" stroke="#000" stroke-width="1.4"/>
<path d="M123.18 886.5L131.38 899.3L114.98 899.3Z" fill="#c0c0c0" stroke="#000" stroke-width="1.4"/>
<path d="M132.47 868.2L140.67 881L124.27 881Z" fill="#c0c0c0" stroke="#000" stroke-width="1.4"/>
<path d="M141.75 856.3L149.95 869.1L133.55 869.1Z" fill="#c0c0c0" stroke="#000" stroke-width="1.4"/>
<path d="M151.03 866.3L159.23 879.1L142.83 879.1Z" fill="#c0c0c0" stroke="#000" stroke-width="1.4"/>
<path d="M160.31 887.4L168.51 900.2L152.12 900.2Z" fill="#c0c0c0" stroke="#000" stroke-width="1.4"/>
<path d="M169.6 884.1L177.8 896.9L161.4 896.9Z" fill="#c0c0c0" stroke="#000" stroke-width="1.4"/>
<path d="M178.88 853.6L187.08 866.4L170.68 866.4Z" fill="#c0c0c0" stroke="#000" stroke-width="1.4"/>
<path d="M188.16 880.2L196.36 893L179.96 893Z" fill="#c0c0c0" stroke="#000" stroke-width="1.4"/>
<path d="M197.45 868.2L205.65 881L189.25 881Z" fill="#c0c0c0" stroke="#000" stroke-width="1.4"/>
<path d="M206.73 852.1L214.93 864.9L198.53 864.9Z" fill="#c0c0c0" stroke="#000" stroke-width="1.4"/>
<path d="M290.28 837.7L298.48 850.5L282.08 850.5Z" fill="#c0c0c0" stroke="#000" stroke-width="1.4"/>
<path d="M299.56 866L307.76 878.8L291.36 878.8Z" fill="#c0c0c0" stroke="#000" stroke-width="1.4"/>
<path d="M308.84 841.6L317.04 854.4L300.64 854.4Z" fill="#c0c0c0" stroke="#000" stroke-width="1.4"/>
<path d="M318.13 850.4L326.33 863.2L309.93 863.2Z" fill="#c0c0c0" stroke="#000" stroke-width="1.4"/>
<path d="M327.41 845.6L335.61 858.4L319.21 858.4Z" fill="#c0c0c0" stroke="#000" stroke-width="1.4"/>
<path d="M336.69 837.1L344.89 849.9L328.49 849.9Z" fill="#c0c0c0" stroke="#000" stroke-width="1.4"/>
<path d="M345.98 822.6L354.18 835.4L337.78 835.4Z" fill="#c0c0c0" stroke="#000" stroke-width="1.4"/>
<path d="M355.26 810.3L363.46 823.1L347.06 823.1Z" fill="#c0c0c0" stroke="#000" stroke-width="1.4"/>
<path d="M364.54 831.8L372.74 844.6L356.34 844.6Z" fill="#c0c0c0" stroke="#000" stroke-width="1.4"/>
<path d="M373.82 823.9L382.02 836.7L365.62 836.7Z" fill="#c0c0c0" stroke="#000" stroke-width="1.4"/>
<path d="M383.11 823.9L391.31 836.7L374.91 836.7Z" fill="#c0c0c0" stroke="#000" stroke-width="1.4"/>
<path d="M392.39 826.5L400.59 839.3L384.19 839.3Z" fill="#c0c0c0" stroke="#000" stroke-width="1.4"/>
<path d="M401.67 828.3L409.87 841.1L393.47 841.1Z" fill="#c0c0c0" stroke="#000" stroke-width="1.4"/>
<path d="M410.96 807.6L419.16 820.4L402.76 820.4Z" fill="#c0c0c0" stroke="#000" stroke-width="1.4"/>
<path d="M420.24 830.6L428.44 843.4L412.04 843.4Z" fill="#c0c0c0" stroke="#000" stroke-width="1.4"/>
<path d="M429.52 812L437.72 824.8L421.32 824.8Z" fill="#c0c0c0" stroke="#000" stroke-width="1.4"/>
<path d="M438.8 824.8L447 837.6L430.6 837.6Z" fill="#c0c0c0" stroke="#000" stroke-width="1.4"/>
<path d="M448.09 829.2L456.29 842L439.89 842Z" fill="#c0c0c0" stroke="#000" stroke-width="1.4"/>
<path d="M457.37 816.5L465.57 829.3L449.17 829.3Z" fill="#c0c0c0" stroke="#000" stroke-width="1.4"/>
<path d="M466.65 796.5L474.85 809.3L458.45 809.3Z" fill="#c0c0c0" stroke="#000" stroke-width="1.4"/>
<path d="M475.94 820.3L484.14 833.1L467.74 833.1Z" fill="#c0c0c0" stroke="#000" stroke-width="1.4"/>
<path d="M485.22 824.1L493.42 836.9L477.02 836.9Z" fill="#c0c0c0" stroke="#000" stroke-width="1.4"/>
<path d="M494.5 823.5L502.7 836.3L486.3 836.3Z" fill="#c0c0c0" stroke="#000" stroke-width="1.4"/>
<path d="M503.79 807.1L511.99 819.9L495.59 819.9Z" fill="#c0c0c0" stroke="#000" stroke-width="1.4"/>
<path d="M513.07 801.8L521.27 814.6L504.87 814.6Z" fill="#c0c0c0" stroke="#000" stroke-width="1.4"/>
<path d="M522.35 809.7L530.55 822.5L514.15 822.5Z" fill="#c0c0c0" stroke="#000" stroke-width="1.4"/>
<path d="M531.63 810.3L539.84 823.1L523.43 823.1Z" fill="#c0c0c0" stroke="#000" stroke-width="1.4"/>
<path d="M540.92 798.8L549.12 811.6L532.72 811.6Z" fill="#c0c0c0" stroke="#000" stroke-width="1.4"/>
<path d="M550.2 823.9L558.4 836.7L542 836.7Z" fill="#c0c0c0" stroke="#000" stroke-width="1.4"/>
<path d="M559.48 810.6L567.68 823.4L551.28 823.4Z" fill="#c0c0c0" stroke="#000" stroke-width="1.4"/>
<path d="M568.77 803.6L576.97 816.4L560.57 816.4Z" fill="#c0c0c0" stroke="#000" stroke-width="1.4"/>
<path d="M578.05 805.6L586.25 818.4L569.85 818.4Z" fill="#c0c0c0" stroke="#000" stroke-width="1.4"/>
<text transform="translate(670 857.5) rotate(-90)" font-size="29.3" text-anchor="middle">Normalized eEPSP slope (%)</text>
<line x1="755.8" y1="701.5" x2="755.8" y2="1012.6" stroke="#000" stroke-width="2"/>
<line x1="754.8" y1="1011.6" x2="989" y2="1011.6" stroke="#000" stroke-width="2"/>
<line x1="753.6" y1="1011.6" x2="755.8" y2="1011.6" stroke="#000" stroke-width="1"/>
<text x="742.8" y="1022.1" font-size="29.3" text-anchor="end">0</text>
<line x1="753.6" y1="979.8" x2="755.8" y2="979.8" stroke="#000" stroke-width="1"/>
<text x="742.8" y="990.3" font-size="29.3" text-anchor="end">20</text>
<line x1="753.6" y1="948" x2="755.8" y2="948" stroke="#000" stroke-width="1"/>
<text x="742.8" y="958.5" font-size="29.3" text-anchor="end">40</text>
<line x1="753.6" y1="916.2" x2="755.8" y2="916.2" stroke="#000" stroke-width="1"/>
<text x="742.8" y="926.7" font-size="29.3" text-anchor="end">60</text>
<line x1="753.6" y1="884.4" x2="755.8" y2="884.4" stroke="#000" stroke-width="1"/>
<text x="742.8" y="894.9" font-size="29.3" text-anchor="end">80</text>
<line x1="753.6" y1="852.6" x2="755.8" y2="852.6" stroke="#000" stroke-width="1"/>
<text x="742.8" y="863.1" font-size="29.3" text-anchor="end">100</text>
<line x1="753.6" y1="820.8" x2="755.8" y2="820.8" stroke="#000" stroke-width="1"/>
<text x="742.8" y="831.3" font-size="29.3" text-anchor="end">120</text>
<line x1="753.6" y1="789" x2="755.8" y2="789" stroke="#000" stroke-width="1"/>
<text x="742.8" y="799.5" font-size="29.3" text-anchor="end">140</text>
<line x1="753.6" y1="757.2" x2="755.8" y2="757.2" stroke="#000" stroke-width="1"/>
<text x="742.8" y="767.7" font-size="29.3" text-anchor="end">160</text>
<line x1="753.6" y1="725.4" x2="755.8" y2="725.4" stroke="#000" stroke-width="1"/>
<text x="742.8" y="735.9" font-size="29.3" text-anchor="end">180</text>
<path d="M802.4 770.9V786.3M799 770.9H805.8M799 786.3H805.8" stroke="#555555" stroke-width="1.3" fill="none"/>
<path d="M942.4 877.7V889.9M939 877.7H945.8M939 889.9H945.8" stroke="#555555" stroke-width="1.3" fill="none"/>
<path d="M849 836V843.9M845.6 836H852.4M845.6 843.9H852.4" stroke="#555555" stroke-width="1.3" fill="none"/>
<path d="M895.8 806V812.7M892.4 806H899.2M892.4 812.7H899.2" stroke="#555555" stroke-width="1.3" fill="none"/>
<rect x="789" y="786.3" width="26.8" height="225.3" fill="#000" stroke="#000" stroke-width="1.6"/>
<rect x="882.4" y="812.7" width="26.8" height="198.9" fill="#c0c0c0" stroke="#000" stroke-width="1.6"/>
<rect x="929" y="889.9" width="26.8" height="121.7" fill="#0000ff" stroke="#000" stroke-width="1.6"/>
<line x1="757" y1="853" x2="989" y2="853" stroke="#000" stroke-opacity="0.4" stroke-width="1.2" stroke-dasharray="1.2 5.66"/>
<rect x="835.6" y="843.9" width="26.8" height="167.7" fill="#ff0000" stroke="#000" stroke-width="1.6"/>
<circle cx="802.4" cy="709.3" r="6.2" fill="#fff" stroke="#000" stroke-width="1.7"/>
<circle cx="802.4" cy="797" r="6.2" fill="#fff" stroke="#000" stroke-width="1.7"/>
<circle cx="802.4" cy="806.9" r="6.2" fill="#fff" stroke="#000" stroke-width="1.7"/>
<circle cx="802.4" cy="821.4" r="6.2" fill="#fff" stroke="#000" stroke-width="1.7"/>
<circle cx="802.4" cy="789.1" r="6.2" fill="#fff" stroke="#000" stroke-width="1.7"/>
<circle cx="849" cy="817.2" r="6.2" fill="#ff0000" stroke="#000" stroke-width="1.7"/>
<circle cx="849" cy="812.7" r="6.2" fill="#ff0000" stroke="#000" stroke-width="1.7"/>
<circle cx="849" cy="834.1" r="6.2" fill="#ff0000" stroke="#000" stroke-width="1.7"/>
<circle cx="849" cy="849" r="6.2" fill="#ff0000" stroke="#000" stroke-width="1.7"/>
<circle cx="849" cy="867.5" r="6.2" fill="#ff0000" stroke="#000" stroke-width="1.7"/>
<circle cx="849" cy="900.2" r="6.2" fill="#ff0000" stroke="#000" stroke-width="1.7"/>
<circle cx="895.8" cy="778.5" r="6.2" fill="#c0c0c0" stroke="#000" stroke-width="1.7"/>
<circle cx="895.8" cy="805.8" r="6.2" fill="#c0c0c0" stroke="#000" stroke-width="1.7"/>
<circle cx="895.8" cy="817.8" r="6.2" fill="#c0c0c0" stroke="#000" stroke-width="1.7"/>
<circle cx="895.8" cy="827.2" r="6.2" fill="#c0c0c0" stroke="#000" stroke-width="1.7"/>
<circle cx="895.8" cy="831.2" r="6.2" fill="#c0c0c0" stroke="#000" stroke-width="1.7"/>
<circle cx="942.4" cy="854.4" r="6.2" fill="#0000ff" stroke="#000" stroke-width="1.7"/>
<circle cx="942.4" cy="863.2" r="6.2" fill="#0000ff" stroke="#000" stroke-width="1.7"/>
<circle cx="942.4" cy="886.8" r="6.2" fill="#0000ff" stroke="#000" stroke-width="1.7"/>
<circle cx="942.4" cy="906.2" r="6.2" fill="#0000ff" stroke="#000" stroke-width="1.7"/>
<circle cx="942.4" cy="941.8" r="6.2" fill="#0000ff" stroke="#000" stroke-width="1.7"/>
<line x1="802.3" y1="690.4" x2="844.7" y2="690.4" stroke="#333" stroke-width="1.4"/>
<line x1="808.7" y1="666.9" x2="954.6" y2="666.9" stroke="#333" stroke-width="1.4"/>
<text x="825.1" y="696.2" font-size="29" text-anchor="middle" stroke="#000" stroke-width="0.6">**</text>
<text x="878.6" y="672.6" font-size="29" text-anchor="middle" stroke="#000" stroke-width="0.6" letter-spacing="1.2">***</text>
<text transform="translate(816.5 1038.5) rotate(-45)" font-size="29.3" text-anchor="end">Control</text>
<text transform="translate(864 1039.5) rotate(-45)" font-size="29.3" text-anchor="end">LY341495</text>
<text transform="translate(911.5 1039) rotate(-45)" font-size="29.3" text-anchor="end">LY367385</text>
<text transform="translate(954.5 1037) rotate(-45)" font-size="29.3" text-anchor="end">MPEP</text>
<text transform="translate(24 1434.4) rotate(-90)" font-size="29.3" text-anchor="middle">Normalized eEPSP slope (%)</text>
<line x1="113.9" y1="1279" x2="113.9" y2="1590.3" stroke="#000" stroke-width="2"/>
<line x1="109.3" y1="1589.3" x2="113.9" y2="1589.3" stroke="#000" stroke-width="1.3"/>
<text x="97.8" y="1599.8" font-size="29.3" text-anchor="end">40</text>
<line x1="109.3" y1="1545.04" x2="113.9" y2="1545.04" stroke="#000" stroke-width="1.3"/>
<text x="97.8" y="1555.54" font-size="29.3" text-anchor="end">60</text>
<line x1="109.3" y1="1500.79" x2="113.9" y2="1500.79" stroke="#000" stroke-width="1.3"/>
<text x="97.8" y="1511.29" font-size="29.3" text-anchor="end">80</text>
<line x1="109.3" y1="1456.53" x2="113.9" y2="1456.53" stroke="#000" stroke-width="1.3"/>
<text x="97.8" y="1467.03" font-size="29.3" text-anchor="end">100</text>
<line x1="109.3" y1="1412.27" x2="113.9" y2="1412.27" stroke="#000" stroke-width="1.3"/>
<text x="97.8" y="1422.77" font-size="29.3" text-anchor="end">120</text>
<line x1="109.3" y1="1368.01" x2="113.9" y2="1368.01" stroke="#000" stroke-width="1.3"/>
<text x="97.8" y="1378.51" font-size="29.3" text-anchor="end">140</text>
<line x1="109.3" y1="1323.76" x2="113.9" y2="1323.76" stroke="#000" stroke-width="1.3"/>
<text x="97.8" y="1334.26" font-size="29.3" text-anchor="end">160</text>
<line x1="109.3" y1="1279.5" x2="113.9" y2="1279.5" stroke="#000" stroke-width="1.3"/>
<text x="97.8" y="1290" font-size="29.3" text-anchor="end">180</text>
<line x1="112.9" y1="1589.3" x2="579.4" y2="1589.3" stroke="#000" stroke-width="2"/>
<line x1="113.9" y1="1589.3" x2="113.9" y2="1593.8" stroke="#000" stroke-width="1.3"/>
<text x="113.9" y="1626.3" font-size="29.3" text-anchor="middle">0</text>
<line x1="206.8" y1="1589.3" x2="206.8" y2="1593.8" stroke="#000" stroke-width="1.3"/>
<text x="206.8" y="1626.3" font-size="29.3" text-anchor="middle">10</text>
<line x1="299.7" y1="1589.3" x2="299.7" y2="1593.8" stroke="#000" stroke-width="1.3"/>
<text x="299.7" y="1626.3" font-size="29.3" text-anchor="middle">20</text>
<line x1="392.6" y1="1589.3" x2="392.6" y2="1593.8" stroke="#000" stroke-width="1.3"/>
<text x="392.6" y="1626.3" font-size="29.3" text-anchor="middle">30</text>
<line x1="485.5" y1="1589.3" x2="485.5" y2="1593.8" stroke="#000" stroke-width="1.3"/>
<text x="485.5" y="1626.3" font-size="29.3" text-anchor="middle">40</text>
<line x1="578.4" y1="1589.3" x2="578.4" y2="1593.8" stroke="#000" stroke-width="1.3"/>
<text x="578.4" y="1626.3" font-size="29.3" text-anchor="middle">50</text>
<text x="347" y="1668.6" font-size="29.3" text-anchor="middle">Time (min)</text>
<line x1="116" y1="1456.53" x2="578.4" y2="1456.53" stroke="#000" stroke-opacity="0.4" stroke-width="1.2" stroke-dasharray="1.2 5.66"/>
<path d="M117 1257.9L133.9 1257.9" fill="none" stroke="#000" stroke-width="1.9" stroke-linejoin="round" stroke-linecap="round"/>
<path d="M130 1257.9L130 1276" fill="none" stroke="#000" stroke-width="1.9" stroke-linejoin="round" stroke-linecap="round"/>
<path d="M133.5 1258C133.92 1256 135.17 1252.33 136 1246C136.83 1239.67 137.75 1227.67 138.5 1220C139.25 1212.33 139.87 1204.5 140.5 1200C141.13 1195.5 141.72 1194.25 142.3 1193C142.88 1191.75 142.1 1190.75 144 1192.5C145.9 1194.25 149.73 1199.08 153.7 1203.5C157.67 1207.92 162.62 1214.62 167.8 1219C172.98 1223.38 178.45 1226.38 184.8 1229.8C191.15 1233.22 198.73 1236.87 205.9 1239.5C213.07 1242.13 224.15 1244.58 227.8 1245.6" fill="none" stroke="#000" stroke-width="1.8" stroke-linejoin="round" stroke-linecap="round"/>
<path d="M133.5 1258C134 1256.67 135.5 1254 136.5 1250C137.5 1246 138.42 1238.67 139.5 1234C140.58 1229.33 141.75 1225.08 143 1222C144.25 1218.92 145.45 1216.92 147 1215.5C148.55 1214.08 150.63 1213.75 152.3 1213.5C153.97 1213.25 155.35 1213.5 157 1214C158.65 1214.5 159.93 1215.25 162.2 1216.5C164.47 1217.75 166.83 1219.28 170.6 1221.5C174.37 1223.72 182.43 1228.42 184.8 1229.8" fill="none" stroke="#000" stroke-width="1.8" stroke-linejoin="round" stroke-linecap="round"/>
<path d="M247 1263.9L259.7 1263.9" fill="none" stroke="#ff0000" stroke-width="2.4" stroke-linejoin="round" stroke-linecap="round"/>
<path d="M259.7 1263.9L259.7 1278" fill="none" stroke="#ff0000" stroke-width="2.4" stroke-linejoin="round" stroke-linecap="round"/>
<path d="M263 1262C263.5 1259.33 265.08 1252.33 266 1246C266.92 1239.67 267.67 1230.83 268.5 1224C269.33 1217.17 270.08 1209.75 271 1205C271.92 1200.25 272.72 1197.58 274 1195.5C275.28 1193.42 277.2 1192.75 278.7 1192.5C280.2 1192.25 281 1192.67 283 1194C285 1195.33 286.82 1195.75 290.7 1200.5C294.58 1205.25 301.35 1216.05 306.3 1222.5C311.25 1228.95 315.62 1234.87 320.4 1239.2C325.18 1243.53 329.12 1245.87 335 1248.5C340.88 1251.13 352.25 1253.92 355.7 1255" fill="none" stroke="#ff0000" stroke-width="2.1" stroke-linejoin="round" stroke-linecap="round"/>
<path d="M263 1262C263.58 1259.67 265.42 1253.67 266.5 1248C267.58 1242.33 268.5 1233.83 269.5 1228C270.5 1222.17 271.5 1216.58 272.5 1213C273.5 1209.42 274.35 1207.87 275.5 1206.5C276.65 1205.13 277.98 1204.97 279.4 1204.8C280.82 1204.63 282.12 1204.72 284 1205.5C285.88 1206.28 286.98 1206.17 290.7 1209.5C294.42 1212.83 301.35 1220.37 306.3 1225.5C311.25 1230.63 315.62 1236.22 320.4 1240.3C325.18 1244.38 329.12 1247.17 335 1250C340.88 1252.83 352.25 1256.08 355.7 1257.3" fill="none" stroke="#ff0000" stroke-width="2.1" stroke-linejoin="round" stroke-linecap="round"/>
<path d="M380.5 1261.6L396.1 1261.6" fill="none" stroke="#c4c4c4" stroke-width="3.8" stroke-linejoin="round" stroke-linecap="round"/>
<path d="M392.8 1261.6L392.8 1278.2" fill="none" stroke="#c4c4c4" stroke-width="2.8" stroke-linejoin="round" stroke-linecap="round"/>
<path d="M396 1262C396.42 1258.33 397.75 1248 398.5 1240C399.25 1232 399.83 1221 400.5 1214C401.17 1207 401.83 1201.33 402.5 1198C403.17 1194.67 403.83 1194.5 404.5 1194C405.17 1193.5 404.85 1193.5 406.5 1195C408.15 1196.5 411.97 1199.77 414.4 1203C416.83 1206.23 418.33 1210.83 421.1 1214.4C423.87 1217.97 429.35 1222.73 431 1224.4" fill="none" stroke="#c4c4c4" stroke-width="2.8" stroke-linejoin="round" stroke-linecap="round"/>
<path d="M396 1262C396.5 1259 398.08 1250.33 399 1244C399.92 1237.67 400.67 1229.33 401.5 1224C402.33 1218.67 403.17 1214.75 404 1212C404.83 1209.25 405.67 1208.25 406.5 1207.5C407.33 1206.75 406.75 1206.25 409 1207.5C411.25 1208.75 416.33 1212.12 420 1215C423.67 1217.88 426.75 1221.2 431 1224.8C435.25 1228.4 440.87 1233.33 445.5 1236.6C450.13 1239.87 454.18 1242.37 458.8 1244.4C463.42 1246.43 470.8 1248.07 473.2 1248.8" fill="none" stroke="#c4c4c4" stroke-width="3.4" stroke-linejoin="round" stroke-linecap="round"/>
<text x="183" y="1216.6" font-size="24.5" text-anchor="middle">2</text>
<text x="152.6" y="1261.5" font-size="24.5" text-anchor="middle">1</text>
<text x="322" y="1218.7" font-size="24.5" text-anchor="middle">2</text>
<text x="277.4" y="1261.5" font-size="24.5" text-anchor="middle">1</text>
<text x="445.2" y="1221.6" font-size="24.5" text-anchor="middle">2</text>
<text x="410.8" y="1261.6" font-size="24.5" text-anchor="middle">1</text>
<line x1="568.8" y1="1201.3" x2="568.8" y2="1246" stroke="#000" stroke-width="1.4"/>
<line x1="533.3" y1="1250.5" x2="565.8" y2="1250.5" stroke="#000" stroke-width="1.5"/>
<text x="500.4" y="1236.4" font-size="25.3" text-anchor="start">5 mV</text>
<text x="500.4" y="1277.7" font-size="25.3" text-anchor="start">50 ms</text>
<text x="237.5" y="1344.8" font-size="25.3" text-anchor="middle">Post–pre</text>
<text x="237.5" y="1374.3" font-size="25.3" text-anchor="middle">pairing</text>
<line x1="208" y1="1406" x2="278.2" y2="1406" stroke="#000" stroke-width="4.2"/>
<text x="182.4" y="1425.3" font-size="24.5" text-anchor="middle">1</text>
<text x="551.9" y="1449.7" font-size="24.5" text-anchor="middle">2</text>
<path d="M134.1 1494.8L142 1510L126.2 1510Z" fill="#000" stroke="#000" stroke-width="1.3"/>
<text x="156.5" y="1511.5" font-size="25.3" text-anchor="start">Control</text>
<path d="M134.1 1526.3L142 1541.5L126.2 1541.5Z" fill="#ff0000" stroke="#000" stroke-width="1.3"/>
<text x="156.5" y="1542.2" font-size="25.3" text-anchor="start">pGDPβs</text>
<path d="M134.1 1561L142 1576.2L126.2 1576.2Z" fill="#c0c0c0" stroke="#000" stroke-width="1.3"/>
<text x="156.5" y="1576.1" font-size="25.3" text-anchor="start">aGDPβs</text>
<path d="M123.19 1450V1462M118.29 1450H128.09M118.29 1462H128.09" stroke="#555555" stroke-width="1.3" fill="none"/>
<path d="M123.19 1449V1473M118.29 1449H128.09M118.29 1473H128.09" stroke="#555555" stroke-width="1.3" fill="none"/>
<path d="M123.19 1456V1472M118.29 1456H128.09M118.29 1472H128.09" stroke="#555555" stroke-width="1.3" fill="none"/>
<path d="M132.48 1433.3V1465.9M127.58 1433.3H137.38M127.58 1465.9H137.38" stroke="#555555" stroke-width="1.3" fill="none"/>
<path d="M132.48 1443V1467M127.58 1443H137.38M127.58 1467H137.38" stroke="#555555" stroke-width="1.3" fill="none"/>
<path d="M132.48 1444V1468M127.58 1444H137.38M127.58 1468H137.38" stroke="#555555" stroke-width="1.3" fill="none"/>
<path d="M141.77 1460.4V1475M136.87 1460.4H146.67M136.87 1475H146.67" stroke="#555555" stroke-width="1.3" fill="none"/>
<path d="M141.77 1452V1464M136.87 1452H146.67M136.87 1464H146.67" stroke="#555555" stroke-width="1.3" fill="none"/>
<path d="M141.77 1447.6V1475.6M136.87 1447.6H146.67M136.87 1475.6H146.67" stroke="#555555" stroke-width="1.3" fill="none"/>
<path d="M151.06 1440V1455.4M146.16 1440H155.96M146.16 1455.4H155.96" stroke="#555555" stroke-width="1.3" fill="none"/>
<path d="M151.06 1437V1461M146.16 1437H155.96M146.16 1461H155.96" stroke="#555555" stroke-width="1.3" fill="none"/>
<path d="M151.06 1439.4V1462M146.16 1439.4H155.96M146.16 1462H155.96" stroke="#555555" stroke-width="1.3" fill="none"/>
<path d="M160.35 1438V1466M155.45 1438H165.25M155.45 1466H165.25" stroke="#555555" stroke-width="1.3" fill="none"/>
<path d="M160.35 1442V1456.8M155.45 1442H165.25M155.45 1456.8H165.25" stroke="#555555" stroke-width="1.3" fill="none"/>
<path d="M160.35 1445.2V1464M155.45 1445.2H165.25M155.45 1464H165.25" stroke="#555555" stroke-width="1.3" fill="none"/>
<path d="M169.64 1433V1461M164.74 1433H174.54M164.74 1461H174.54" stroke="#555555" stroke-width="1.3" fill="none"/>
<path d="M169.64 1447V1463M164.74 1447H174.54M164.74 1463H174.54" stroke="#555555" stroke-width="1.3" fill="none"/>
<path d="M169.64 1438V1453M164.74 1438H174.54M164.74 1453H174.54" stroke="#555555" stroke-width="1.3" fill="none"/>
<path d="M178.93 1442V1460M174.03 1442H183.83M174.03 1460H183.83" stroke="#555555" stroke-width="1.3" fill="none"/>
<path d="M178.93 1436.8V1460.8M174.03 1436.8H183.83M174.03 1460.8H183.83" stroke="#555555" stroke-width="1.3" fill="none"/>
<path d="M178.93 1436V1447.6M174.03 1436H183.83M174.03 1447.6H183.83" stroke="#555555" stroke-width="1.3" fill="none"/>
<path d="M188.22 1440V1453.2M183.32 1440H193.12M183.32 1453.2H193.12" stroke="#555555" stroke-width="1.3" fill="none"/>
<path d="M188.22 1436.8V1460.8M183.32 1436.8H193.12M183.32 1460.8H193.12" stroke="#555555" stroke-width="1.3" fill="none"/>
<path d="M188.22 1457V1474M183.32 1457H193.12M183.32 1474H193.12" stroke="#555555" stroke-width="1.3" fill="none"/>
<path d="M197.51 1438V1454.2M192.61 1438H202.41M192.61 1454.2H202.41" stroke="#555555" stroke-width="1.3" fill="none"/>
<path d="M197.51 1440V1464M192.61 1440H202.41M192.61 1464H202.41" stroke="#555555" stroke-width="1.3" fill="none"/>
<path d="M197.51 1452.6V1474M192.61 1452.6H202.41M192.61 1474H202.41" stroke="#555555" stroke-width="1.3" fill="none"/>
<path d="M206.8 1436V1464M201.9 1436H211.7M201.9 1464H211.7" stroke="#555555" stroke-width="1.3" fill="none"/>
<path d="M206.8 1445V1466M201.9 1445H211.7M201.9 1466H211.7" stroke="#555555" stroke-width="1.3" fill="none"/>
<path d="M206.8 1438V1449M201.9 1438H211.7M201.9 1449H211.7" stroke="#555555" stroke-width="1.3" fill="none"/>
<path d="M290.41 1366.4V1402.4M285.51 1366.4H295.31M285.51 1402.4H295.31" stroke="#555555" stroke-width="1.3" fill="none"/>
<path d="M290.41 1421V1445M285.51 1421H295.31M285.51 1445H295.31" stroke="#555555" stroke-width="1.3" fill="none"/>
<path d="M290.41 1417.3V1450.7M285.51 1417.3H295.31M285.51 1450.7H295.31" stroke="#555555" stroke-width="1.3" fill="none"/>
<path d="M299.7 1388.8V1405.8M294.8 1388.8H304.6M294.8 1405.8H304.6" stroke="#555555" stroke-width="1.3" fill="none"/>
<path d="M299.7 1411V1438M294.8 1411H304.6M294.8 1438H304.6" stroke="#555555" stroke-width="1.3" fill="none"/>
<path d="M299.7 1393.9V1421.9M294.8 1393.9H304.6M294.8 1421.9H304.6" stroke="#555555" stroke-width="1.3" fill="none"/>
<path d="M308.99 1395V1429M304.09 1395H313.89M304.09 1429H313.89" stroke="#555555" stroke-width="1.3" fill="none"/>
<path d="M308.99 1419.8V1463.2M304.09 1419.8H313.89M304.09 1463.2H313.89" stroke="#555555" stroke-width="1.3" fill="none"/>
<path d="M308.99 1401.4V1429.4M304.09 1401.4H313.89M304.09 1429.4H313.89" stroke="#555555" stroke-width="1.3" fill="none"/>
<path d="M318.28 1405V1433M313.38 1405H323.18M313.38 1433H323.18" stroke="#555555" stroke-width="1.3" fill="none"/>
<path d="M318.28 1419.8V1450M313.38 1419.8H323.18M313.38 1450H323.18" stroke="#555555" stroke-width="1.3" fill="none"/>
<path d="M318.28 1352.2V1401.4M313.38 1352.2H323.18M313.38 1401.4H323.18" stroke="#555555" stroke-width="1.3" fill="none"/>
<path d="M327.57 1404.8V1432.8M322.67 1404.8H332.47M322.67 1432.8H332.47" stroke="#555555" stroke-width="1.3" fill="none"/>
<path d="M327.57 1425.5V1454.3M322.67 1425.5H332.47M322.67 1454.3H332.47" stroke="#555555" stroke-width="1.3" fill="none"/>
<path d="M327.57 1384.4V1424.8M322.67 1384.4H332.47M322.67 1424.8H332.47" stroke="#555555" stroke-width="1.3" fill="none"/>
<path d="M336.86 1400V1428M331.96 1400H341.76M331.96 1428H341.76" stroke="#555555" stroke-width="1.3" fill="none"/>
<path d="M336.86 1405.4V1440M331.96 1405.4H341.76M331.96 1440H341.76" stroke="#555555" stroke-width="1.3" fill="none"/>
<path d="M336.86 1391V1428.2M331.96 1391H341.76M331.96 1428.2H341.76" stroke="#555555" stroke-width="1.3" fill="none"/>
<path d="M346.15 1401.7V1429.7M341.25 1401.7H351.05M341.25 1429.7H351.05" stroke="#555555" stroke-width="1.3" fill="none"/>
<path d="M346.15 1411V1445.4M341.25 1411H351.05M341.25 1445.4H351.05" stroke="#555555" stroke-width="1.3" fill="none"/>
<path d="M346.15 1372.2V1418M341.25 1372.2H351.05M341.25 1418H351.05" stroke="#555555" stroke-width="1.3" fill="none"/>
<path d="M355.44 1390V1418M350.54 1390H360.34M350.54 1418H360.34" stroke="#555555" stroke-width="1.3" fill="none"/>
<path d="M355.44 1400.8V1435M350.54 1400.8H360.34M350.54 1435H360.34" stroke="#555555" stroke-width="1.3" fill="none"/>
<path d="M355.44 1353.8V1397.2M350.54 1353.8H360.34M350.54 1397.2H360.34" stroke="#555555" stroke-width="1.3" fill="none"/>
<path d="M364.73 1404.8V1432.8M359.83 1404.8H369.63M359.83 1432.8H369.63" stroke="#555555" stroke-width="1.3" fill="none"/>
<path d="M364.73 1400.8V1448.2M359.83 1400.8H369.63M359.83 1448.2H369.63" stroke="#555555" stroke-width="1.3" fill="none"/>
<path d="M364.73 1380V1413.6M359.83 1380H369.63M359.83 1413.6H369.63" stroke="#555555" stroke-width="1.3" fill="none"/>
<path d="M374.02 1352.7V1402.1M369.12 1352.7H378.92M369.12 1402.1H378.92" stroke="#555555" stroke-width="1.3" fill="none"/>
<path d="M374.02 1410.9V1442.1M369.12 1410.9H378.92M369.12 1442.1H378.92" stroke="#555555" stroke-width="1.3" fill="none"/>
<path d="M374.02 1370.4V1398.4M369.12 1370.4H378.92M369.12 1398.4H378.92" stroke="#555555" stroke-width="1.3" fill="none"/>
<path d="M383.31 1379.5V1407.5M378.41 1379.5H388.21M378.41 1407.5H388.21" stroke="#555555" stroke-width="1.3" fill="none"/>
<path d="M383.31 1398.7V1429.3M378.41 1398.7H388.21M378.41 1429.3H388.21" stroke="#555555" stroke-width="1.3" fill="none"/>
<path d="M383.31 1347.5V1402.1M378.41 1347.5H388.21M378.41 1402.1H388.21" stroke="#555555" stroke-width="1.3" fill="none"/>
<path d="M392.6 1383.7V1411.7M387.7 1383.7H397.5M387.7 1411.7H397.5" stroke="#555555" stroke-width="1.3" fill="none"/>
<path d="M392.6 1400.4V1433.8M387.7 1400.4H397.5M387.7 1433.8H397.5" stroke="#555555" stroke-width="1.3" fill="none"/>
<path d="M392.6 1366.6V1402.6M387.7 1366.6H397.5M387.7 1402.6H397.5" stroke="#555555" stroke-width="1.3" fill="none"/>
<path d="M401.89 1338.8V1393.8M396.99 1338.8H406.79M396.99 1393.8H406.79" stroke="#555555" stroke-width="1.3" fill="none"/>
<path d="M401.89 1402.1V1429.3M396.99 1402.1H406.79M396.99 1429.3H406.79" stroke="#555555" stroke-width="1.3" fill="none"/>
<path d="M401.89 1370.9V1398.9M396.99 1370.9H406.79M396.99 1398.9H406.79" stroke="#555555" stroke-width="1.3" fill="none"/>
<path d="M411.18 1375.9V1403.9M406.28 1375.9H416.08M406.28 1403.9H416.08" stroke="#555555" stroke-width="1.3" fill="none"/>
<path d="M411.18 1406.6V1433.2M406.28 1406.6H416.08M406.28 1433.2H416.08" stroke="#555555" stroke-width="1.3" fill="none"/>
<path d="M411.18 1343.8V1385.4M406.28 1343.8H416.08M406.28 1385.4H416.08" stroke="#555555" stroke-width="1.3" fill="none"/>
<path d="M420.47 1350.2V1392.4M415.57 1350.2H425.37M415.57 1392.4H425.37" stroke="#555555" stroke-width="1.3" fill="none"/>
<path d="M420.47 1390.8V1420M415.57 1390.8H425.37M415.57 1420H425.37" stroke="#555555" stroke-width="1.3" fill="none"/>
<path d="M420.47 1383.3V1411.3M415.57 1383.3H425.37M415.57 1411.3H425.37" stroke="#555555" stroke-width="1.3" fill="none"/>
<path d="M429.76 1346.6V1377.8M424.86 1346.6H434.66M424.86 1377.8H434.66" stroke="#555555" stroke-width="1.3" fill="none"/>
<path d="M429.76 1401.4V1428.8M424.86 1401.4H434.66M424.86 1428.8H434.66" stroke="#555555" stroke-width="1.3" fill="none"/>
<path d="M429.76 1364.5V1392.5M424.86 1364.5H434.66M424.86 1392.5H434.66" stroke="#555555" stroke-width="1.3" fill="none"/>
<path d="M439.05 1335.5V1363.3M434.15 1335.5H443.95M434.15 1363.3H443.95" stroke="#555555" stroke-width="1.3" fill="none"/>
<path d="M439.05 1404.2V1423.8M434.15 1404.2H443.95M434.15 1423.8H443.95" stroke="#555555" stroke-width="1.3" fill="none"/>
<path d="M439.05 1365.6V1393.6M434.15 1365.6H443.95M434.15 1393.6H443.95" stroke="#555555" stroke-width="1.3" fill="none"/>
<path d="M448.34 1339.1V1375.3M443.44 1339.1H453.24M443.44 1375.3H453.24" stroke="#555555" stroke-width="1.3" fill="none"/>
<path d="M448.34 1394.2V1420M443.44 1394.2H453.24M443.44 1420H453.24" stroke="#555555" stroke-width="1.3" fill="none"/>
<path d="M448.34 1384.5V1412.5M443.44 1384.5H453.24M443.44 1412.5H453.24" stroke="#555555" stroke-width="1.3" fill="none"/>
<path d="M457.63 1360V1387M452.73 1360H462.53M452.73 1387H462.53" stroke="#555555" stroke-width="1.3" fill="none"/>
<path d="M457.63 1393.2V1428.8M452.73 1393.2H462.53M452.73 1428.8H462.53" stroke="#555555" stroke-width="1.3" fill="none"/>
<path d="M457.63 1391.4V1419.4M452.73 1391.4H462.53M452.73 1419.4H462.53" stroke="#555555" stroke-width="1.3" fill="none"/>
<path d="M466.92 1361V1389M462.02 1361H471.82M462.02 1389H471.82" stroke="#555555" stroke-width="1.3" fill="none"/>
<path d="M466.92 1389.3V1417.1M462.02 1389.3H471.82M462.02 1417.1H471.82" stroke="#555555" stroke-width="1.3" fill="none"/>
<path d="M466.92 1347.5V1387.9M462.02 1347.5H471.82M462.02 1387.9H471.82" stroke="#555555" stroke-width="1.3" fill="none"/>
<path d="M476.21 1366.7V1394.7M471.31 1366.7H481.11M471.31 1394.7H481.11" stroke="#555555" stroke-width="1.3" fill="none"/>
<path d="M476.21 1378.6V1410M471.31 1378.6H481.11M471.31 1410H481.11" stroke="#555555" stroke-width="1.3" fill="none"/>
<path d="M476.21 1339.1V1395.3M471.31 1339.1H481.11M471.31 1395.3H481.11" stroke="#555555" stroke-width="1.3" fill="none"/>
<path d="M485.5 1338.3V1373.5M480.6 1338.3H490.4M480.6 1373.5H490.4" stroke="#555555" stroke-width="1.3" fill="none"/>
<path d="M485.5 1388.1V1414.9M480.6 1388.1H490.4M480.6 1414.9H490.4" stroke="#555555" stroke-width="1.3" fill="none"/>
<path d="M485.5 1367.5V1395.5M480.6 1367.5H490.4M480.6 1395.5H490.4" stroke="#555555" stroke-width="1.3" fill="none"/>
<path d="M494.79 1336.9V1381.9M489.89 1336.9H499.69M489.89 1381.9H499.69" stroke="#555555" stroke-width="1.3" fill="none"/>
<path d="M494.79 1382.4V1418.4M489.89 1382.4H499.69M489.89 1418.4H499.69" stroke="#555555" stroke-width="1.3" fill="none"/>
<path d="M494.79 1366.1V1394.1M489.89 1366.1H499.69M489.89 1394.1H499.69" stroke="#555555" stroke-width="1.3" fill="none"/>
<path d="M504.08 1358V1382.8M499.18 1358H508.98M499.18 1382.8H508.98" stroke="#555555" stroke-width="1.3" fill="none"/>
<path d="M504.08 1396.1V1421.3M499.18 1396.1H508.98M499.18 1421.3H508.98" stroke="#555555" stroke-width="1.3" fill="none"/>
<path d="M504.08 1361.7V1389.7M499.18 1361.7H508.98M499.18 1389.7H508.98" stroke="#555555" stroke-width="1.3" fill="none"/>
<path d="M513.37 1352.8V1377.6M508.47 1352.8H518.27M508.47 1377.6H518.27" stroke="#555555" stroke-width="1.3" fill="none"/>
<path d="M513.37 1384.6V1418.4M508.47 1384.6H518.27M508.47 1418.4H518.27" stroke="#555555" stroke-width="1.3" fill="none"/>
<path d="M513.37 1380V1408M508.47 1380H518.27M508.47 1408H518.27" stroke="#555555" stroke-width="1.3" fill="none"/>
<path d="M522.66 1319.1V1356.3M517.76 1319.1H527.56M517.76 1356.3H527.56" stroke="#555555" stroke-width="1.3" fill="none"/>
<path d="M522.66 1382.6V1410M517.76 1382.6H527.56M517.76 1410H527.56" stroke="#555555" stroke-width="1.3" fill="none"/>
<path d="M522.66 1355.9V1383.9M517.76 1355.9H527.56M517.76 1383.9H527.56" stroke="#555555" stroke-width="1.3" fill="none"/>
<path d="M531.95 1348.9V1376.9M527.05 1348.9H536.85M527.05 1376.9H536.85" stroke="#555555" stroke-width="1.3" fill="none"/>
<path d="M531.95 1383.1V1413.1M527.05 1383.1H536.85M527.05 1413.1H536.85" stroke="#555555" stroke-width="1.3" fill="none"/>
<path d="M531.95 1323.2V1370.2M527.05 1323.2H536.85M527.05 1370.2H536.85" stroke="#555555" stroke-width="1.3" fill="none"/>
<path d="M541.24 1355V1384.2M536.34 1355H546.14M536.34 1384.2H546.14" stroke="#555555" stroke-width="1.3" fill="none"/>
<path d="M541.24 1390.5V1421.9M536.34 1390.5H546.14M536.34 1421.9H546.14" stroke="#555555" stroke-width="1.3" fill="none"/>
<path d="M541.24 1369V1397M536.34 1369H546.14M536.34 1397H546.14" stroke="#555555" stroke-width="1.3" fill="none"/>
<path d="M550.53 1331.9V1369.5M545.63 1331.9H555.43M545.63 1369.5H555.43" stroke="#555555" stroke-width="1.3" fill="none"/>
<path d="M550.53 1377.7V1409.1M545.63 1377.7H555.43M545.63 1409.1H555.43" stroke="#555555" stroke-width="1.3" fill="none"/>
<path d="M550.53 1355.6V1383.6M545.63 1355.6H555.43M545.63 1383.6H555.43" stroke="#555555" stroke-width="1.3" fill="none"/>
<path d="M559.82 1348V1376M554.92 1348H564.72M554.92 1376H564.72" stroke="#555555" stroke-width="1.3" fill="none"/>
<path d="M559.82 1381.3V1413.7M554.92 1381.3H564.72M554.92 1413.7H564.72" stroke="#555555" stroke-width="1.3" fill="none"/>
<path d="M559.82 1337.7V1382.9M554.92 1337.7H564.72M554.92 1382.9H564.72" stroke="#555555" stroke-width="1.3" fill="none"/>
<path d="M569.11 1341.8V1374.8M564.21 1341.8H574.01M564.21 1374.8H574.01" stroke="#555555" stroke-width="1.3" fill="none"/>
<path d="M569.11 1391.6V1429.4M564.21 1391.6H574.01M564.21 1429.4H574.01" stroke="#555555" stroke-width="1.3" fill="none"/>
<path d="M569.11 1365.7V1393.7M564.21 1365.7H574.01M564.21 1393.7H574.01" stroke="#555555" stroke-width="1.3" fill="none"/>
<path d="M578.4 1321.5V1373.7M573.5 1321.5H583.3M573.5 1373.7H583.3" stroke="#555555" stroke-width="1.3" fill="none"/>
<path d="M578.4 1341.6V1411.4M573.5 1341.6H583.3M573.5 1411.4H583.3" stroke="#555555" stroke-width="1.3" fill="none"/>
<path d="M578.4 1362V1390M573.5 1362H583.3M573.5 1390H583.3" stroke="#555555" stroke-width="1.3" fill="none"/>
<path d="M123.19 1449.9L131.19 1462.1L115.19 1462.1Z" fill="#000" stroke="#000" stroke-width="1.4"/>
<path d="M132.48 1443.5L140.48 1455.7L124.48 1455.7Z" fill="#000" stroke="#000" stroke-width="1.4"/>
<path d="M141.77 1461.6L149.77 1473.8L133.77 1473.8Z" fill="#000" stroke="#000" stroke-width="1.4"/>
<path d="M151.06 1441.6L159.06 1453.8L143.06 1453.8Z" fill="#000" stroke="#000" stroke-width="1.4"/>
<path d="M160.35 1445.9L168.35 1458.1L152.35 1458.1Z" fill="#000" stroke="#000" stroke-width="1.4"/>
<path d="M169.64 1440.9L177.64 1453.1L161.64 1453.1Z" fill="#000" stroke="#000" stroke-width="1.4"/>
<path d="M178.93 1444.9L186.93 1457.1L170.93 1457.1Z" fill="#000" stroke="#000" stroke-width="1.4"/>
<path d="M188.22 1440.5L196.22 1452.7L180.22 1452.7Z" fill="#000" stroke="#000" stroke-width="1.4"/>
<path d="M197.51 1440L205.51 1452.2L189.51 1452.2Z" fill="#000" stroke="#000" stroke-width="1.4"/>
<path d="M206.8 1443.9L214.8 1456.1L198.8 1456.1Z" fill="#000" stroke="#000" stroke-width="1.4"/>
<path d="M290.41 1378.3L298.41 1390.5L282.41 1390.5Z" fill="#000" stroke="#000" stroke-width="1.4"/>
<path d="M299.7 1391.2L307.7 1403.4L291.7 1403.4Z" fill="#000" stroke="#000" stroke-width="1.4"/>
<path d="M308.99 1405.9L316.99 1418.1L300.99 1418.1Z" fill="#000" stroke="#000" stroke-width="1.4"/>
<path d="M318.28 1412.9L326.28 1425.1L310.28 1425.1Z" fill="#000" stroke="#000" stroke-width="1.4"/>
<path d="M327.57 1412.7L335.57 1424.9L319.57 1424.9Z" fill="#000" stroke="#000" stroke-width="1.4"/>
<path d="M336.86 1407.9L344.86 1420.1L328.86 1420.1Z" fill="#000" stroke="#000" stroke-width="1.4"/>
<path d="M346.15 1409.6L354.15 1421.8L338.15 1421.8Z" fill="#000" stroke="#000" stroke-width="1.4"/>
<path d="M355.44 1397.9L363.44 1410.1L347.44 1410.1Z" fill="#000" stroke="#000" stroke-width="1.4"/>
<path d="M364.73 1412.7L372.73 1424.9L356.73 1424.9Z" fill="#000" stroke="#000" stroke-width="1.4"/>
<path d="M374.02 1371.3L382.02 1383.5L366.02 1383.5Z" fill="#000" stroke="#000" stroke-width="1.4"/>
<path d="M383.31 1387.4L391.31 1399.6L375.31 1399.6Z" fill="#000" stroke="#000" stroke-width="1.4"/>
<path d="M392.6 1391.6L400.6 1403.8L384.6 1403.8Z" fill="#000" stroke="#000" stroke-width="1.4"/>
<path d="M401.89 1360.2L409.89 1372.4L393.89 1372.4Z" fill="#000" stroke="#000" stroke-width="1.4"/>
<path d="M411.18 1383.8L419.18 1396L403.18 1396Z" fill="#000" stroke="#000" stroke-width="1.4"/>
<path d="M420.47 1365.2L428.47 1377.4L412.47 1377.4Z" fill="#000" stroke="#000" stroke-width="1.4"/>
<path d="M429.76 1356.1L437.76 1368.3L421.76 1368.3Z" fill="#000" stroke="#000" stroke-width="1.4"/>
<path d="M439.05 1343.3L447.05 1355.5L431.05 1355.5Z" fill="#000" stroke="#000" stroke-width="1.4"/>
<path d="M448.34 1351.1L456.34 1363.3L440.34 1363.3Z" fill="#000" stroke="#000" stroke-width="1.4"/>
<path d="M457.63 1367.4L465.63 1379.6L449.63 1379.6Z" fill="#000" stroke="#000" stroke-width="1.4"/>
<path d="M466.92 1368.9L474.92 1381.1L458.92 1381.1Z" fill="#000" stroke="#000" stroke-width="1.4"/>
<path d="M476.21 1374.6L484.21 1386.8L468.21 1386.8Z" fill="#000" stroke="#000" stroke-width="1.4"/>
<path d="M485.5 1349.8L493.5 1362L477.5 1362Z" fill="#000" stroke="#000" stroke-width="1.4"/>
<path d="M494.79 1353.3L502.79 1365.5L486.79 1365.5Z" fill="#000" stroke="#000" stroke-width="1.4"/>
<path d="M504.08 1364.3L512.08 1376.5L496.08 1376.5Z" fill="#000" stroke="#000" stroke-width="1.4"/>
<path d="M513.37 1359.1L521.37 1371.3L505.37 1371.3Z" fill="#000" stroke="#000" stroke-width="1.4"/>
<path d="M522.66 1331.6L530.66 1343.8L514.66 1343.8Z" fill="#000" stroke="#000" stroke-width="1.4"/>
<path d="M531.95 1356.8L539.95 1369L523.95 1369Z" fill="#000" stroke="#000" stroke-width="1.4"/>
<path d="M541.24 1363.5L549.24 1375.7L533.24 1375.7Z" fill="#000" stroke="#000" stroke-width="1.4"/>
<path d="M550.53 1344.6L558.53 1356.8L542.53 1356.8Z" fill="#000" stroke="#000" stroke-width="1.4"/>
<path d="M559.82 1355.9L567.82 1368.1L551.82 1368.1Z" fill="#000" stroke="#000" stroke-width="1.4"/>
<path d="M569.11 1352.2L577.11 1364.4L561.11 1364.4Z" fill="#000" stroke="#000" stroke-width="1.4"/>
<path d="M578.4 1341.5L586.4 1353.7L570.4 1353.7Z" fill="#000" stroke="#000" stroke-width="1.4"/>
<path d="M123.19 1454.9L131.19 1467.1L115.19 1467.1Z" fill="#ff0000" stroke="#000" stroke-width="1.4"/>
<path d="M132.48 1448.9L140.48 1461.1L124.48 1461.1Z" fill="#ff0000" stroke="#000" stroke-width="1.4"/>
<path d="M141.77 1451.9L149.77 1464.1L133.77 1464.1Z" fill="#ff0000" stroke="#000" stroke-width="1.4"/>
<path d="M151.06 1442.9L159.06 1455.1L143.06 1455.1Z" fill="#ff0000" stroke="#000" stroke-width="1.4"/>
<path d="M160.35 1443.3L168.35 1455.5L152.35 1455.5Z" fill="#ff0000" stroke="#000" stroke-width="1.4"/>
<path d="M169.64 1448.9L177.64 1461.1L161.64 1461.1Z" fill="#ff0000" stroke="#000" stroke-width="1.4"/>
<path d="M178.93 1442.7L186.93 1454.9L170.93 1454.9Z" fill="#ff0000" stroke="#000" stroke-width="1.4"/>
<path d="M188.22 1442.7L196.22 1454.9L180.22 1454.9Z" fill="#ff0000" stroke="#000" stroke-width="1.4"/>
<path d="M197.51 1445.9L205.51 1458.1L189.51 1458.1Z" fill="#ff0000" stroke="#000" stroke-width="1.4"/>
<path d="M206.8 1449.4L214.8 1461.6L198.8 1461.6Z" fill="#ff0000" stroke="#000" stroke-width="1.4"/>
<path d="M290.41 1426.9L298.41 1439.1L282.41 1439.1Z" fill="#ff0000" stroke="#000" stroke-width="1.4"/>
<path d="M299.7 1418.4L307.7 1430.6L291.7 1430.6Z" fill="#ff0000" stroke="#000" stroke-width="1.4"/>
<path d="M308.99 1435.4L316.99 1447.6L300.99 1447.6Z" fill="#ff0000" stroke="#000" stroke-width="1.4"/>
<path d="M318.28 1428.8L326.28 1441L310.28 1441Z" fill="#ff0000" stroke="#000" stroke-width="1.4"/>
<path d="M327.57 1433.8L335.57 1446L319.57 1446Z" fill="#ff0000" stroke="#000" stroke-width="1.4"/>
<path d="M336.86 1416.6L344.86 1428.8L328.86 1428.8Z" fill="#ff0000" stroke="#000" stroke-width="1.4"/>
<path d="M346.15 1422.1L354.15 1434.3L338.15 1434.3Z" fill="#ff0000" stroke="#000" stroke-width="1.4"/>
<path d="M355.44 1411.8L363.44 1424L347.44 1424Z" fill="#ff0000" stroke="#000" stroke-width="1.4"/>
<path d="M364.73 1418.4L372.73 1430.6L356.73 1430.6Z" fill="#ff0000" stroke="#000" stroke-width="1.4"/>
<path d="M374.02 1420.4L382.02 1432.6L366.02 1432.6Z" fill="#ff0000" stroke="#000" stroke-width="1.4"/>
<path d="M383.31 1407.9L391.31 1420.1L375.31 1420.1Z" fill="#ff0000" stroke="#000" stroke-width="1.4"/>
<path d="M392.6 1411L400.6 1423.2L384.6 1423.2Z" fill="#ff0000" stroke="#000" stroke-width="1.4"/>
<path d="M401.89 1409.6L409.89 1421.8L393.89 1421.8Z" fill="#ff0000" stroke="#000" stroke-width="1.4"/>
<path d="M411.18 1413.8L419.18 1426L403.18 1426Z" fill="#ff0000" stroke="#000" stroke-width="1.4"/>
<path d="M420.47 1399.3L428.47 1411.5L412.47 1411.5Z" fill="#ff0000" stroke="#000" stroke-width="1.4"/>
<path d="M429.76 1409L437.76 1421.2L421.76 1421.2Z" fill="#ff0000" stroke="#000" stroke-width="1.4"/>
<path d="M439.05 1407.9L447.05 1420.1L431.05 1420.1Z" fill="#ff0000" stroke="#000" stroke-width="1.4"/>
<path d="M448.34 1401L456.34 1413.2L440.34 1413.2Z" fill="#ff0000" stroke="#000" stroke-width="1.4"/>
<path d="M457.63 1404.9L465.63 1417.1L449.63 1417.1Z" fill="#ff0000" stroke="#000" stroke-width="1.4"/>
<path d="M466.92 1397.1L474.92 1409.3L458.92 1409.3Z" fill="#ff0000" stroke="#000" stroke-width="1.4"/>
<path d="M476.21 1388.2L484.21 1400.4L468.21 1400.4Z" fill="#ff0000" stroke="#000" stroke-width="1.4"/>
<path d="M485.5 1395.4L493.5 1407.6L477.5 1407.6Z" fill="#ff0000" stroke="#000" stroke-width="1.4"/>
<path d="M494.79 1394.3L502.79 1406.5L486.79 1406.5Z" fill="#ff0000" stroke="#000" stroke-width="1.4"/>
<path d="M504.08 1402.6L512.08 1414.8L496.08 1414.8Z" fill="#ff0000" stroke="#000" stroke-width="1.4"/>
<path d="M513.37 1395.4L521.37 1407.6L505.37 1407.6Z" fill="#ff0000" stroke="#000" stroke-width="1.4"/>
<path d="M522.66 1390.2L530.66 1402.4L514.66 1402.4Z" fill="#ff0000" stroke="#000" stroke-width="1.4"/>
<path d="M531.95 1392L539.95 1404.2L523.95 1404.2Z" fill="#ff0000" stroke="#000" stroke-width="1.4"/>
<path d="M541.24 1400.1L549.24 1412.3L533.24 1412.3Z" fill="#ff0000" stroke="#000" stroke-width="1.4"/>
<path d="M550.53 1387.3L558.53 1399.5L542.53 1399.5Z" fill="#ff0000" stroke="#000" stroke-width="1.4"/>
<path d="M559.82 1391.4L567.82 1403.6L551.82 1403.6Z" fill="#ff0000" stroke="#000" stroke-width="1.4"/>
<path d="M569.11 1404.4L577.11 1416.6L561.11 1416.6Z" fill="#ff0000" stroke="#000" stroke-width="1.4"/>
<path d="M578.4 1370.4L586.4 1382.6L570.4 1382.6Z" fill="#ff0000" stroke="#000" stroke-width="1.4"/>
<path d="M123.19 1457.9L131.19 1470.1L115.19 1470.1Z" fill="#c0c0c0" stroke="#000" stroke-width="1.4"/>
<path d="M132.48 1449.9L140.48 1462.1L124.48 1462.1Z" fill="#c0c0c0" stroke="#000" stroke-width="1.4"/>
<path d="M141.77 1455.5L149.77 1467.7L133.77 1467.7Z" fill="#c0c0c0" stroke="#000" stroke-width="1.4"/>
<path d="M151.06 1444.6L159.06 1456.8L143.06 1456.8Z" fill="#c0c0c0" stroke="#000" stroke-width="1.4"/>
<path d="M160.35 1448.5L168.35 1460.7L152.35 1460.7Z" fill="#c0c0c0" stroke="#000" stroke-width="1.4"/>
<path d="M169.64 1439.4L177.64 1451.6L161.64 1451.6Z" fill="#c0c0c0" stroke="#000" stroke-width="1.4"/>
<path d="M178.93 1435.7L186.93 1447.9L170.93 1447.9Z" fill="#c0c0c0" stroke="#000" stroke-width="1.4"/>
<path d="M188.22 1459.4L196.22 1471.6L180.22 1471.6Z" fill="#c0c0c0" stroke="#000" stroke-width="1.4"/>
<path d="M197.51 1457.2L205.51 1469.4L189.51 1469.4Z" fill="#c0c0c0" stroke="#000" stroke-width="1.4"/>
<path d="M206.8 1437.4L214.8 1449.6L198.8 1449.6Z" fill="#c0c0c0" stroke="#000" stroke-width="1.4"/>
<path d="M290.41 1427.9L298.41 1440.1L282.41 1440.1Z" fill="#c0c0c0" stroke="#000" stroke-width="1.4"/>
<path d="M299.7 1401.8L307.7 1414L291.7 1414Z" fill="#c0c0c0" stroke="#000" stroke-width="1.4"/>
<path d="M308.99 1409.3L316.99 1421.5L300.99 1421.5Z" fill="#c0c0c0" stroke="#000" stroke-width="1.4"/>
<path d="M318.28 1370.7L326.28 1382.9L310.28 1382.9Z" fill="#c0c0c0" stroke="#000" stroke-width="1.4"/>
<path d="M327.57 1398.5L335.57 1410.7L319.57 1410.7Z" fill="#c0c0c0" stroke="#000" stroke-width="1.4"/>
<path d="M336.86 1403.5L344.86 1415.7L328.86 1415.7Z" fill="#c0c0c0" stroke="#000" stroke-width="1.4"/>
<path d="M346.15 1389L354.15 1401.2L338.15 1401.2Z" fill="#c0c0c0" stroke="#000" stroke-width="1.4"/>
<path d="M355.44 1369.4L363.44 1381.6L347.44 1381.6Z" fill="#c0c0c0" stroke="#000" stroke-width="1.4"/>
<path d="M364.73 1390.7L372.73 1402.9L356.73 1402.9Z" fill="#c0c0c0" stroke="#000" stroke-width="1.4"/>
<path d="M374.02 1378.3L382.02 1390.5L366.02 1390.5Z" fill="#c0c0c0" stroke="#000" stroke-width="1.4"/>
<path d="M383.31 1368.7L391.31 1380.9L375.31 1380.9Z" fill="#c0c0c0" stroke="#000" stroke-width="1.4"/>
<path d="M392.6 1378.5L400.6 1390.7L384.6 1390.7Z" fill="#c0c0c0" stroke="#000" stroke-width="1.4"/>
<path d="M401.89 1378.8L409.89 1391L393.89 1391Z" fill="#c0c0c0" stroke="#000" stroke-width="1.4"/>
<path d="M411.18 1358.5L419.18 1370.7L403.18 1370.7Z" fill="#c0c0c0" stroke="#000" stroke-width="1.4"/>
<path d="M420.47 1391.2L428.47 1403.4L412.47 1403.4Z" fill="#c0c0c0" stroke="#000" stroke-width="1.4"/>
<path d="M429.76 1372.4L437.76 1384.6L421.76 1384.6Z" fill="#c0c0c0" stroke="#000" stroke-width="1.4"/>
<path d="M439.05 1373.5L447.05 1385.7L431.05 1385.7Z" fill="#c0c0c0" stroke="#000" stroke-width="1.4"/>
<path d="M448.34 1392.4L456.34 1404.6L440.34 1404.6Z" fill="#c0c0c0" stroke="#000" stroke-width="1.4"/>
<path d="M457.63 1399.3L465.63 1411.5L449.63 1411.5Z" fill="#c0c0c0" stroke="#000" stroke-width="1.4"/>
<path d="M466.92 1361.6L474.92 1373.8L458.92 1373.8Z" fill="#c0c0c0" stroke="#000" stroke-width="1.4"/>
<path d="M476.21 1361.1L484.21 1373.3L468.21 1373.3Z" fill="#c0c0c0" stroke="#000" stroke-width="1.4"/>
<path d="M485.5 1375.4L493.5 1387.6L477.5 1387.6Z" fill="#c0c0c0" stroke="#000" stroke-width="1.4"/>
<path d="M494.79 1374L502.79 1386.2L486.79 1386.2Z" fill="#c0c0c0" stroke="#000" stroke-width="1.4"/>
<path d="M504.08 1369.6L512.08 1381.8L496.08 1381.8Z" fill="#c0c0c0" stroke="#000" stroke-width="1.4"/>
<path d="M513.37 1387.9L521.37 1400.1L505.37 1400.1Z" fill="#c0c0c0" stroke="#000" stroke-width="1.4"/>
<path d="M522.66 1363.8L530.66 1376L514.66 1376Z" fill="#c0c0c0" stroke="#000" stroke-width="1.4"/>
<path d="M531.95 1340.6L539.95 1352.8L523.95 1352.8Z" fill="#c0c0c0" stroke="#000" stroke-width="1.4"/>
<path d="M541.24 1376.9L549.24 1389.1L533.24 1389.1Z" fill="#c0c0c0" stroke="#000" stroke-width="1.4"/>
<path d="M550.53 1363.5L558.53 1375.7L542.53 1375.7Z" fill="#c0c0c0" stroke="#000" stroke-width="1.4"/>
<path d="M559.82 1354.2L567.82 1366.4L551.82 1366.4Z" fill="#c0c0c0" stroke="#000" stroke-width="1.4"/>
<path d="M569.11 1373.6L577.11 1385.8L561.11 1385.8Z" fill="#c0c0c0" stroke="#000" stroke-width="1.4"/>
<path d="M578.4 1369.9L586.4 1382.1L570.4 1382.1Z" fill="#c0c0c0" stroke="#000" stroke-width="1.4"/>
<text transform="translate(670 1433.3) rotate(-90)" font-size="29.3" text-anchor="middle">Normalized eEPSP slope (%)</text>
<line x1="756" y1="1277.4" x2="756" y2="1589" stroke="#000" stroke-width="2"/>
<line x1="755" y1="1588" x2="989" y2="1588" stroke="#000" stroke-width="2"/>
<line x1="753.8" y1="1588" x2="756" y2="1588" stroke="#000" stroke-width="1"/>
<text x="742.8" y="1598.5" font-size="29.3" text-anchor="end">0</text>
<line x1="753.8" y1="1556.1" x2="756" y2="1556.1" stroke="#000" stroke-width="1"/>
<text x="742.8" y="1566.6" font-size="29.3" text-anchor="end">20</text>
<line x1="753.8" y1="1524.2" x2="756" y2="1524.2" stroke="#000" stroke-width="1"/>
<text x="742.8" y="1534.7" font-size="29.3" text-anchor="end">40</text>
<line x1="753.8" y1="1492.3" x2="756" y2="1492.3" stroke="#000" stroke-width="1"/>
<text x="742.8" y="1502.8" font-size="29.3" text-anchor="end">60</text>
<line x1="753.8" y1="1460.4" x2="756" y2="1460.4" stroke="#000" stroke-width="1"/>
<text x="742.8" y="1470.9" font-size="29.3" text-anchor="end">80</text>
<line x1="753.8" y1="1428.5" x2="756" y2="1428.5" stroke="#000" stroke-width="1"/>
<text x="742.8" y="1439" font-size="29.3" text-anchor="end">100</text>
<line x1="753.8" y1="1396.6" x2="756" y2="1396.6" stroke="#000" stroke-width="1"/>
<text x="742.8" y="1407.1" font-size="29.3" text-anchor="end">120</text>
<line x1="753.8" y1="1364.7" x2="756" y2="1364.7" stroke="#000" stroke-width="1"/>
<text x="742.8" y="1375.2" font-size="29.3" text-anchor="end">140</text>
<line x1="753.8" y1="1332.8" x2="756" y2="1332.8" stroke="#000" stroke-width="1"/>
<text x="742.8" y="1343.3" font-size="29.3" text-anchor="end">160</text>
<line x1="753.8" y1="1300.9" x2="756" y2="1300.9" stroke="#000" stroke-width="1"/>
<text x="742.8" y="1311.4" font-size="29.3" text-anchor="end">180</text>
<path d="M813.8 1347.3V1359M810.4 1347.3H817.2M810.4 1359H817.2" stroke="#555555" stroke-width="1.3" fill="none"/>
<path d="M871.7 1380V1387.6M868.3 1380H875.1M868.3 1387.6H875.1" stroke="#555555" stroke-width="1.3" fill="none"/>
<path d="M930.2 1360V1370.1M926.8 1360H933.6M926.8 1370.1H933.6" stroke="#555555" stroke-width="1.3" fill="none"/>
<rect x="796.05" y="1359" width="35.5" height="229" fill="#000" stroke="#000" stroke-width="1.6"/>
<rect x="853.95" y="1387.6" width="35.5" height="200.4" fill="#ff0000" stroke="#000" stroke-width="1.6"/>
<rect x="912.45" y="1370.1" width="35.5" height="217.9" fill="#c0c0c0" stroke="#000" stroke-width="1.6"/>
<line x1="757" y1="1428.8" x2="989" y2="1428.8" stroke="#000" stroke-opacity="0.4" stroke-width="1.2" stroke-dasharray="1.2 5.66"/>
<circle cx="813.3" cy="1281.7" r="6.2" fill="#fff" stroke="#000" stroke-width="1.7"/>
<circle cx="813.3" cy="1304.3" r="6.2" fill="#fff" stroke="#000" stroke-width="1.7"/>
<circle cx="813.3" cy="1339.9" r="6.2" fill="#fff" stroke="#000" stroke-width="1.7"/>
<circle cx="813.3" cy="1359" r="6.2" fill="#fff" stroke="#000" stroke-width="1.7"/>
<circle cx="813.3" cy="1374.9" r="6.2" fill="#fff" stroke="#000" stroke-width="1.7"/>
<circle cx="813.3" cy="1379.6" r="6.2" fill="#fff" stroke="#000" stroke-width="1.7"/>
<circle cx="813.3" cy="1388.2" r="6.2" fill="#fff" stroke="#000" stroke-width="1.7"/>
<circle cx="813.3" cy="1427.2" r="6.2" fill="#fff" stroke="#000" stroke-width="1.7"/>
<circle cx="871.5" cy="1366.3" r="6.2" fill="#ff0000" stroke="#000" stroke-width="1.7"/>
<circle cx="871.5" cy="1377.4" r="6.2" fill="#ff0000" stroke="#000" stroke-width="1.7"/>
<circle cx="871.5" cy="1379.2" r="6.2" fill="#ff0000" stroke="#000" stroke-width="1.7"/>
<circle cx="871.5" cy="1382.3" r="6.2" fill="#ff0000" stroke="#000" stroke-width="1.7"/>
<circle cx="871.5" cy="1385.3" r="6.2" fill="#ff0000" stroke="#000" stroke-width="1.7"/>
<circle cx="871.5" cy="1409.7" r="6.2" fill="#ff0000" stroke="#000" stroke-width="1.7"/>
<circle cx="871.5" cy="1414.3" r="6.2" fill="#ff0000" stroke="#000" stroke-width="1.7"/>
<circle cx="929.9" cy="1322.6" r="6.2" fill="#c0c0c0" stroke="#000" stroke-width="1.7"/>
<circle cx="929.9" cy="1341.9" r="6.2" fill="#c0c0c0" stroke="#000" stroke-width="1.7"/>
<circle cx="929.9" cy="1349.1" r="6.2" fill="#c0c0c0" stroke="#000" stroke-width="1.7"/>
<circle cx="929.9" cy="1363.2" r="6.2" fill="#c0c0c0" stroke="#000" stroke-width="1.7"/>
<circle cx="929.9" cy="1367.8" r="6.2" fill="#c0c0c0" stroke="#000" stroke-width="1.7"/>
<circle cx="929.9" cy="1370.1" r="6.2" fill="#c0c0c0" stroke="#000" stroke-width="1.7"/>
<circle cx="929.9" cy="1398.3" r="6.2" fill="#c0c0c0" stroke="#000" stroke-width="1.7"/>
<circle cx="929.9" cy="1407.4" r="6.2" fill="#c0c0c0" stroke="#000" stroke-width="1.7"/>
<circle cx="929.9" cy="1434.1" r="6.2" fill="#c0c0c0" stroke="#000" stroke-width="1.7"/>
<text transform="translate(827 1615) rotate(-45)" font-size="29.3" text-anchor="end">Control</text>
<text transform="translate(886.5 1614) rotate(-45)" font-size="29.3" text-anchor="end">pGDPβS</text>
<text transform="translate(944.5 1614) rotate(-45)" font-size="29.3" text-anchor="end">aGDPβS</text>
</svg></body></html>
